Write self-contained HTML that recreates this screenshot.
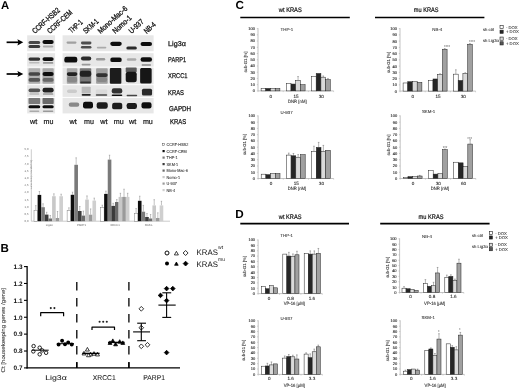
<!DOCTYPE html>
<html><head><meta charset="utf-8"><style>
html,body{margin:0;padding:0;background:#fff;width:520px;height:389px;overflow:hidden}
svg{display:block}
text{font-family:"Liberation Sans",sans-serif;text-rendering:geometricPrecision}
</style></head><body>
<svg width="520" height="389" viewBox="0 0 520 389">
<defs>
<filter id="bl" x="-10%" y="-10%" width="120%" height="120%"><feGaussianBlur stdDeviation="0.5"/></filter>
<filter id="bl2" x="-20%" y="-20%" width="140%" height="140%"><feGaussianBlur stdDeviation="0.7"/></filter>
<filter id="gblur" x="0" y="0" width="100%" height="100%"><feGaussianBlur stdDeviation="0.3"/></filter>
</defs>
<rect width="520" height="389" fill="#fff"/>
<g filter="url(#gblur)">
<rect width="520" height="389" fill="#fff"/>
<text x="0.90" y="8.90" font-size="11.3" text-anchor="start" fill="#000" font-weight="bold" >A</text>
<text x="34.90" y="34.10" font-size="7.7" text-anchor="start" fill="#111" textLength="34.5" lengthAdjust="spacingAndGlyphs" transform="rotate(-42 34.90 34.10)" stroke="#111" stroke-width="0.3">CCRF-HSB2</text>
<text x="49.90" y="34.10" font-size="7.7" text-anchor="start" fill="#111" textLength="31.0" lengthAdjust="spacingAndGlyphs" transform="rotate(-42 49.90 34.10)" stroke="#111" stroke-width="0.3">CCRF-CEM</text>
<text x="71.40" y="33.60" font-size="7.7" text-anchor="start" fill="#111" textLength="16.0" lengthAdjust="spacingAndGlyphs" transform="rotate(-42 71.40 33.60)" stroke="#111" stroke-width="0.3">THP-1</text>
<text x="85.90" y="34.10" font-size="7.7" text-anchor="start" fill="#111" textLength="18.0" lengthAdjust="spacingAndGlyphs" transform="rotate(-42 85.90 34.10)" stroke="#111" stroke-width="0.3">SKM-1</text>
<text x="100.40" y="34.10" font-size="7.7" text-anchor="start" fill="#111" textLength="37.0" lengthAdjust="spacingAndGlyphs" transform="rotate(-42 100.40 34.10)" stroke="#111" stroke-width="0.3">Mono-Mac-6</text>
<text x="115.20" y="34.10" font-size="7.7" text-anchor="start" fill="#111" textLength="23.0" lengthAdjust="spacingAndGlyphs" transform="rotate(-42 115.20 34.10)" stroke="#111" stroke-width="0.3">Nomo-1</text>
<text x="131.40" y="34.10" font-size="7.7" text-anchor="start" fill="#111" textLength="17.5" lengthAdjust="spacingAndGlyphs" transform="rotate(-42 131.40 34.10)" stroke="#111" stroke-width="0.3">U-937</text>
<text x="146.70" y="34.10" font-size="7.7" text-anchor="start" fill="#111" textLength="13.0" lengthAdjust="spacingAndGlyphs" transform="rotate(-42 146.70 34.10)" stroke="#111" stroke-width="0.3">NB-4</text>
<g filter="url(#bl)">
<rect x="27.20" y="35.30" width="27.90" height="15.90" fill="#e7e7e7" />
<rect x="62.60" y="35.30" width="91.00" height="15.90" fill="#e7e7e7" />
<rect x="27.20" y="53.20" width="27.90" height="13.40" fill="#e7e7e7" />
<rect x="62.60" y="53.20" width="91.00" height="13.40" fill="#e7e7e7" />
<rect x="27.20" y="67.60" width="27.90" height="16.60" fill="#e7e7e7" />
<rect x="62.60" y="67.60" width="91.00" height="16.60" fill="#e7e7e7" />
<rect x="27.20" y="85.20" width="27.90" height="11.70" fill="#e7e7e7" />
<rect x="62.60" y="85.20" width="91.00" height="11.70" fill="#e7e7e7" />
<rect x="27.20" y="97.90" width="27.90" height="15.50" fill="#e7e7e7" />
<rect x="62.60" y="97.90" width="91.00" height="15.50" fill="#e7e7e7" />
</g>
<g filter="url(#bl2)">
<rect x="28.50" y="40.94" width="11.70" height="3.12" rx="1.56" fill="#4a4a4a"/>
<rect x="28.50" y="44.94" width="11.70" height="3.12" rx="1.56" fill="#3a3a3a"/>
<rect x="42.50" y="39.96" width="11.20" height="4.08" rx="2.04" fill="#111"/>
<rect x="42.85" y="45.42" width="10.50" height="2.16" rx="1.08" fill="#aaa"/>
<rect x="66.50" y="41.52" width="10.00" height="2.16" rx="1.08" fill="#a0a0a0"/>
<rect x="80.95" y="41.56" width="10.50" height="2.88" rx="1.44" fill="#505050"/>
<rect x="80.95" y="46.10" width="10.50" height="2.40" rx="1.20" fill="#505050"/>
<rect x="96.85" y="46.64" width="9.50" height="1.92" rx="0.96" fill="#aaa"/>
<rect x="110.25" y="41.64" width="11.50" height="4.32" rx="2.16" fill="#111"/>
<rect x="126.35" y="46.44" width="10.50" height="3.12" rx="1.56" fill="#2a2a2a"/>
<rect x="140.55" y="41.96" width="11.50" height="4.08" rx="2.04" fill="#111"/>
<rect x="28.50" y="57.54" width="11.70" height="3.12" rx="1.56" fill="#333"/>
<rect x="29.10" y="61.98" width="10.50" height="1.44" rx="0.72" fill="#bbb"/>
<rect x="42.50" y="57.18" width="11.20" height="3.84" rx="1.92" fill="#111"/>
<rect x="42.85" y="62.06" width="10.50" height="1.68" rx="0.84" fill="#999"/>
<rect x="64.30" y="56.82" width="13.00" height="5.76" rx="2.20" fill="#111"/>
<rect x="80.95" y="56.46" width="10.30" height="4.08" rx="2.04" fill="#2a2a2a"/>
<rect x="81.60" y="63.82" width="9.00" height="1.56" rx="0.78" fill="#999"/>
<rect x="96.00" y="58.10" width="9.20" height="2.40" rx="1.20" fill="#9a9a9a"/>
<rect x="110.25" y="57.52" width="11.50" height="4.56" rx="2.20" fill="#111"/>
<rect x="126.85" y="58.18" width="9.50" height="2.64" rx="1.32" fill="#aaa"/>
<rect x="140.55" y="57.22" width="11.50" height="4.56" rx="2.20" fill="#111"/>
<rect x="141.55" y="64.22" width="9.50" height="1.56" rx="0.78" fill="#888"/>
<rect x="28.50" y="68.25" width="11.70" height="15.50" rx="0.80" fill="#b0b0b0"/>
<rect x="42.50" y="68.25" width="11.20" height="15.50" rx="0.80" fill="#a8a8a8"/>
<rect x="28.50" y="72.20" width="11.70" height="3.60" rx="1.80" fill="#444"/>
<rect x="28.50" y="78.10" width="11.70" height="3.60" rx="1.80" fill="#555"/>
<rect x="42.50" y="71.90" width="11.20" height="4.20" rx="2.10" fill="#111"/>
<rect x="42.50" y="78.10" width="11.20" height="3.60" rx="1.80" fill="#666"/>
<rect x="66.80" y="68.25" width="10.60" height="15.50" rx="0.80" fill="#a8a8a8"/>
<rect x="66.80" y="72.30" width="10.60" height="3.60" rx="1.80" fill="#222"/>
<rect x="67.10" y="76.50" width="10.00" height="6.00" rx="2.20" fill="#888"/>
<rect x="79.75" y="68.25" width="11.50" height="15.50" rx="0.80" fill="#777"/>
<rect x="79.75" y="70.70" width="11.50" height="6.00" rx="2.20" fill="#222"/>
<rect x="80.25" y="81.46" width="10.50" height="1.68" rx="0.84" fill="#333"/>
<rect x="96.10" y="68.25" width="11.60" height="15.50" rx="0.80" fill="#a0a0a0"/>
<rect x="96.10" y="73.18" width="11.60" height="3.84" rx="1.92" fill="#303030"/>
<rect x="96.65" y="77.10" width="10.50" height="4.80" rx="2.20" fill="#888"/>
<rect x="109.85" y="67.90" width="11.50" height="15.80" rx="1.00" fill="#1e1e1e"/>
<rect x="125.70" y="67.60" width="11.00" height="4.80" rx="0.80" fill="#5a5a5a"/>
<rect x="125.70" y="71.75" width="11.00" height="10.50" rx="2.50" fill="#141414"/>
<rect x="140.15" y="68.05" width="11.50" height="15.50" rx="1.50" fill="#121212"/>
<rect x="28.50" y="88.60" width="11.70" height="3.60" rx="1.80" fill="#555"/>
<rect x="29.35" y="93.28" width="10.00" height="1.44" rx="0.72" fill="#bbb"/>
<rect x="42.50" y="87.70" width="11.20" height="4.80" rx="2.20" fill="#222"/>
<rect x="42.85" y="93.16" width="10.50" height="1.68" rx="0.84" fill="#999"/>
<rect x="67.00" y="89.40" width="10.00" height="3.60" rx="1.80" fill="#cbcbcb"/>
<rect x="81.65" y="86.78" width="9.10" height="6.84" rx="0.80" fill="#bbb"/>
<rect x="81.65" y="93.90" width="9.10" height="1.80" rx="0.90" fill="#222"/>
<rect x="95.75" y="89.60" width="11.50" height="4.80" rx="0.80" fill="#dadada"/>
<rect x="95.75" y="94.28" width="11.50" height="1.44" rx="0.72" fill="#444"/>
<rect x="111.70" y="88.32" width="10.60" height="5.16" rx="2.20" fill="#333"/>
<rect x="111.70" y="94.52" width="10.60" height="1.56" rx="0.78" fill="#111"/>
<rect x="126.60" y="94.78" width="10.60" height="1.44" rx="0.72" fill="#444"/>
<rect x="141.95" y="88.78" width="10.10" height="6.84" rx="1.50" fill="#2a2a2a"/>
<rect x="28.50" y="98.00" width="11.70" height="6.00" rx="0.80" fill="#7a7a7a"/>
<rect x="42.50" y="98.00" width="11.20" height="6.00" rx="0.80" fill="#6a6a6a"/>
<rect x="28.50" y="105.30" width="11.70" height="3.00" rx="1.50" fill="#111"/>
<rect x="29.35" y="110.48" width="10.00" height="1.44" rx="0.72" fill="#aaa"/>
<rect x="42.50" y="105.24" width="11.20" height="3.12" rx="1.56" fill="#111"/>
<rect x="42.85" y="110.48" width="10.50" height="1.44" rx="0.72" fill="#999"/>
<rect x="68.70" y="102.60" width="10.60" height="4.20" rx="2.10" fill="#888"/>
<rect x="83.00" y="101.68" width="10.00" height="6.84" rx="2.20" fill="#111"/>
<rect x="96.65" y="102.26" width="11.10" height="6.48" rx="2.20" fill="#1a1a1a"/>
<rect x="112.15" y="102.64" width="10.10" height="6.72" rx="2.20" fill="#1a1a1a"/>
<rect x="126.65" y="103.00" width="10.30" height="6.00" rx="2.20" fill="#1a1a1a"/>
<rect x="141.45" y="102.30" width="10.10" height="6.20" rx="2.20" fill="#111"/>
</g>
<line x1="6.60" y1="42.30" x2="19.00" y2="42.30" stroke="#000" stroke-width="1.7" />
<path d="M17.4,39.20 L23.3,42.30 L17.4,45.40 L18.4,42.30 Z" fill="#000"/>
<line x1="6.60" y1="74.00" x2="19.00" y2="74.00" stroke="#000" stroke-width="1.7" />
<path d="M17.4,70.90 L23.3,74.00 L17.4,77.10 L18.4,74.00 Z" fill="#000"/>
<text x="168.10" y="45.80" font-size="7.0" text-anchor="start" fill="#111" textLength="17.7" lengthAdjust="spacingAndGlyphs" stroke="#111" stroke-width="0.25">Lig3α</text>
<text x="168.10" y="62.40" font-size="7.0" text-anchor="start" fill="#111" textLength="17.9" lengthAdjust="spacingAndGlyphs" stroke="#111" stroke-width="0.25">PARP1</text>
<text x="168.10" y="78.00" font-size="7.0" text-anchor="start" fill="#111" textLength="19.4" lengthAdjust="spacingAndGlyphs" stroke="#111" stroke-width="0.25">XRCC1</text>
<text x="168.10" y="95.00" font-size="7.0" text-anchor="start" fill="#111" textLength="15.9" lengthAdjust="spacingAndGlyphs" stroke="#111" stroke-width="0.25">KRAS</text>
<text x="168.90" y="111.20" font-size="7.0" text-anchor="start" fill="#111" textLength="22.2" lengthAdjust="spacingAndGlyphs" stroke="#111" stroke-width="0.25">GAPDH</text>
<text x="170.00" y="124.10" font-size="7.0" text-anchor="start" fill="#111" textLength="16.2" lengthAdjust="spacingAndGlyphs" stroke="#111" stroke-width="0.25">KRAS</text>
<text x="33.75" y="123.80" font-size="7.4" text-anchor="middle" fill="#1a1a1a" textLength="7.3" lengthAdjust="spacingAndGlyphs" stroke="#1a1a1a" stroke-width="0.22">wt</text>
<text x="48.55" y="123.80" font-size="7.4" text-anchor="middle" fill="#1a1a1a" textLength="9.9" lengthAdjust="spacingAndGlyphs" stroke="#1a1a1a" stroke-width="0.22">mu</text>
<text x="73.10" y="123.80" font-size="7.4" text-anchor="middle" fill="#1a1a1a" textLength="7.3" lengthAdjust="spacingAndGlyphs" stroke="#1a1a1a" stroke-width="0.22">wt</text>
<text x="88.95" y="123.80" font-size="7.4" text-anchor="middle" fill="#1a1a1a" textLength="9.9" lengthAdjust="spacingAndGlyphs" stroke="#1a1a1a" stroke-width="0.22">mu</text>
<text x="103.80" y="123.80" font-size="7.4" text-anchor="middle" fill="#1a1a1a" textLength="7.3" lengthAdjust="spacingAndGlyphs" stroke="#1a1a1a" stroke-width="0.22">wt</text>
<text x="118.80" y="123.80" font-size="7.4" text-anchor="middle" fill="#1a1a1a" textLength="9.9" lengthAdjust="spacingAndGlyphs" stroke="#1a1a1a" stroke-width="0.22">mu</text>
<text x="132.70" y="123.80" font-size="7.4" text-anchor="middle" fill="#1a1a1a" textLength="7.3" lengthAdjust="spacingAndGlyphs" stroke="#1a1a1a" stroke-width="0.22">wt</text>
<text x="147.90" y="123.80" font-size="7.4" text-anchor="middle" fill="#1a1a1a" textLength="9.9" lengthAdjust="spacingAndGlyphs" stroke="#1a1a1a" stroke-width="0.22">mu</text>
<line x1="31.30" y1="149.30" x2="31.30" y2="221.20" stroke="#aaa" stroke-width="0.6" />
<line x1="31.30" y1="221.20" x2="170.00" y2="221.20" stroke="#aaa" stroke-width="0.6" />
<text x="28.50" y="222.20" font-size="2.8" text-anchor="end" fill="#666" >0,0</text>
<text x="28.50" y="215.01" font-size="2.8" text-anchor="end" fill="#666" >0,5</text>
<text x="28.50" y="207.82" font-size="2.8" text-anchor="end" fill="#666" >1,0</text>
<text x="28.50" y="200.63" font-size="2.8" text-anchor="end" fill="#666" >1,5</text>
<text x="28.50" y="193.44" font-size="2.8" text-anchor="end" fill="#666" >2,0</text>
<text x="28.50" y="186.25" font-size="2.8" text-anchor="end" fill="#666" >2,5</text>
<text x="28.50" y="179.06" font-size="2.8" text-anchor="end" fill="#666" >3,0</text>
<text x="28.50" y="171.87" font-size="2.8" text-anchor="end" fill="#666" >3,5</text>
<text x="28.50" y="164.68" font-size="2.8" text-anchor="end" fill="#666" >4,0</text>
<text x="28.50" y="157.49" font-size="2.8" text-anchor="end" fill="#666" >4,5</text>
<text x="28.50" y="150.30" font-size="2.8" text-anchor="end" fill="#666" >5,0</text>
<text x="32.00" y="175.00" font-size="2.6" text-anchor="middle" fill="#777" textLength="29" lengthAdjust="spacingAndGlyphs" transform="rotate(-90 32.00 175.00)" >relative intensity [protein/GAPDH]</text>
<line x1="35.81" y1="210.20" x2="35.81" y2="205.60" stroke="#777" stroke-width="0.45" />
<line x1="35.11" y1="205.60" x2="36.51" y2="205.60" stroke="#777" stroke-width="0.45" />
<rect x="34.00" y="210.20" width="3.62" height="11.00" fill="#fff" stroke="#666" stroke-width="0.4" />
<line x1="39.43" y1="194.90" x2="39.43" y2="191.50" stroke="#777" stroke-width="0.45" />
<line x1="38.73" y1="191.50" x2="40.13" y2="191.50" stroke="#777" stroke-width="0.45" />
<rect x="37.62" y="194.90" width="3.62" height="26.30" fill="#111" />
<line x1="43.05" y1="207.20" x2="43.05" y2="203.80" stroke="#777" stroke-width="0.45" />
<line x1="42.35" y1="203.80" x2="43.75" y2="203.80" stroke="#777" stroke-width="0.45" />
<rect x="41.24" y="207.20" width="3.62" height="14.00" fill="#7a7a7a" />
<line x1="46.67" y1="214.60" x2="46.67" y2="212.30" stroke="#777" stroke-width="0.45" />
<line x1="45.97" y1="212.30" x2="47.37" y2="212.30" stroke="#777" stroke-width="0.45" />
<rect x="44.86" y="214.60" width="3.62" height="6.60" fill="#3a3a3a" />
<line x1="50.29" y1="218.50" x2="50.29" y2="215.50" stroke="#777" stroke-width="0.45" />
<line x1="49.59" y1="215.50" x2="50.99" y2="215.50" stroke="#777" stroke-width="0.45" />
<rect x="48.48" y="218.50" width="3.62" height="2.70" fill="#6a6a6a" />
<line x1="53.91" y1="196.20" x2="53.91" y2="193.80" stroke="#777" stroke-width="0.45" />
<line x1="53.21" y1="193.80" x2="54.61" y2="193.80" stroke="#777" stroke-width="0.45" />
<rect x="52.10" y="196.20" width="3.62" height="25.00" fill="#c8c8c8" />
<line x1="57.53" y1="218.00" x2="57.53" y2="211.50" stroke="#777" stroke-width="0.45" />
<line x1="56.83" y1="211.50" x2="58.23" y2="211.50" stroke="#777" stroke-width="0.45" />
<rect x="55.72" y="218.00" width="3.62" height="3.20" fill="#9a9a9a" />
<line x1="61.15" y1="196.20" x2="61.15" y2="194.20" stroke="#777" stroke-width="0.45" />
<line x1="60.45" y1="194.20" x2="61.85" y2="194.20" stroke="#777" stroke-width="0.45" />
<rect x="59.34" y="196.20" width="3.62" height="25.00" fill="#cfcfcf" />
<line x1="68.91" y1="210.70" x2="68.91" y2="207.80" stroke="#777" stroke-width="0.45" />
<line x1="68.21" y1="207.80" x2="69.61" y2="207.80" stroke="#777" stroke-width="0.45" />
<rect x="67.10" y="210.70" width="3.62" height="10.50" fill="#fff" stroke="#666" stroke-width="0.4" />
<line x1="72.53" y1="194.80" x2="72.53" y2="192.20" stroke="#777" stroke-width="0.45" />
<line x1="71.83" y1="192.20" x2="73.23" y2="192.20" stroke="#777" stroke-width="0.45" />
<rect x="70.72" y="194.80" width="3.62" height="26.40" fill="#111" />
<line x1="76.15" y1="164.80" x2="76.15" y2="157.80" stroke="#777" stroke-width="0.45" />
<line x1="75.45" y1="157.80" x2="76.85" y2="157.80" stroke="#777" stroke-width="0.45" />
<rect x="74.34" y="164.80" width="3.62" height="56.40" fill="#7a7a7a" />
<line x1="79.77" y1="211.00" x2="79.77" y2="206.50" stroke="#777" stroke-width="0.45" />
<line x1="79.07" y1="206.50" x2="80.47" y2="206.50" stroke="#777" stroke-width="0.45" />
<rect x="77.96" y="211.00" width="3.62" height="10.20" fill="#3a3a3a" />
<line x1="83.39" y1="215.60" x2="83.39" y2="211.10" stroke="#777" stroke-width="0.45" />
<line x1="82.69" y1="211.10" x2="84.09" y2="211.10" stroke="#777" stroke-width="0.45" />
<rect x="81.58" y="215.60" width="3.62" height="5.60" fill="#6a6a6a" />
<line x1="87.01" y1="199.60" x2="87.01" y2="195.90" stroke="#777" stroke-width="0.45" />
<line x1="86.31" y1="195.90" x2="87.71" y2="195.90" stroke="#777" stroke-width="0.45" />
<rect x="85.20" y="199.60" width="3.62" height="21.60" fill="#c8c8c8" />
<line x1="90.63" y1="214.70" x2="90.63" y2="208.90" stroke="#777" stroke-width="0.45" />
<line x1="89.93" y1="208.90" x2="91.33" y2="208.90" stroke="#777" stroke-width="0.45" />
<rect x="88.82" y="214.70" width="3.62" height="6.50" fill="#9a9a9a" />
<line x1="94.25" y1="200.60" x2="94.25" y2="198.10" stroke="#777" stroke-width="0.45" />
<line x1="93.55" y1="198.10" x2="94.95" y2="198.10" stroke="#777" stroke-width="0.45" />
<rect x="92.44" y="200.60" width="3.62" height="20.60" fill="#cfcfcf" />
<line x1="102.31" y1="207.70" x2="102.31" y2="205.20" stroke="#777" stroke-width="0.45" />
<line x1="101.61" y1="205.20" x2="103.01" y2="205.20" stroke="#777" stroke-width="0.45" />
<rect x="100.50" y="207.70" width="3.62" height="13.50" fill="#fff" stroke="#666" stroke-width="0.4" />
<line x1="105.93" y1="193.90" x2="105.93" y2="191.10" stroke="#777" stroke-width="0.45" />
<line x1="105.23" y1="191.10" x2="106.63" y2="191.10" stroke="#777" stroke-width="0.45" />
<rect x="104.12" y="193.90" width="3.62" height="27.30" fill="#111" />
<line x1="109.55" y1="159.60" x2="109.55" y2="155.20" stroke="#777" stroke-width="0.45" />
<line x1="108.85" y1="155.20" x2="110.25" y2="155.20" stroke="#777" stroke-width="0.45" />
<rect x="107.74" y="159.60" width="3.62" height="61.60" fill="#7a7a7a" />
<line x1="113.17" y1="205.90" x2="113.17" y2="203.30" stroke="#777" stroke-width="0.45" />
<line x1="112.47" y1="203.30" x2="113.87" y2="203.30" stroke="#777" stroke-width="0.45" />
<rect x="111.36" y="205.90" width="3.62" height="15.30" fill="#3a3a3a" />
<line x1="116.79" y1="202.00" x2="116.79" y2="199.60" stroke="#777" stroke-width="0.45" />
<line x1="116.09" y1="199.60" x2="117.49" y2="199.60" stroke="#777" stroke-width="0.45" />
<rect x="114.98" y="202.00" width="3.62" height="19.20" fill="#6a6a6a" />
<line x1="120.41" y1="196.90" x2="120.41" y2="193.30" stroke="#777" stroke-width="0.45" />
<line x1="119.71" y1="193.30" x2="121.11" y2="193.30" stroke="#777" stroke-width="0.45" />
<rect x="118.60" y="196.90" width="3.62" height="24.30" fill="#c8c8c8" />
<line x1="124.03" y1="196.90" x2="124.03" y2="189.20" stroke="#777" stroke-width="0.45" />
<line x1="123.33" y1="189.20" x2="124.73" y2="189.20" stroke="#777" stroke-width="0.45" />
<rect x="122.22" y="196.90" width="3.62" height="24.30" fill="#9a9a9a" />
<line x1="127.65" y1="196.90" x2="127.65" y2="193.30" stroke="#777" stroke-width="0.45" />
<line x1="126.95" y1="193.30" x2="128.35" y2="193.30" stroke="#777" stroke-width="0.45" />
<rect x="125.84" y="196.90" width="3.62" height="24.30" fill="#cfcfcf" />
<line x1="136.11" y1="213.50" x2="136.11" y2="208.50" stroke="#777" stroke-width="0.45" />
<line x1="135.41" y1="208.50" x2="136.81" y2="208.50" stroke="#777" stroke-width="0.45" />
<rect x="134.30" y="213.50" width="3.62" height="7.70" fill="#fff" stroke="#666" stroke-width="0.4" />
<line x1="139.73" y1="200.80" x2="139.73" y2="196.20" stroke="#777" stroke-width="0.45" />
<line x1="139.03" y1="196.20" x2="140.43" y2="196.20" stroke="#777" stroke-width="0.45" />
<rect x="137.92" y="200.80" width="3.62" height="20.40" fill="#111" />
<line x1="143.35" y1="211.70" x2="143.35" y2="205.40" stroke="#777" stroke-width="0.45" />
<line x1="142.65" y1="205.40" x2="144.05" y2="205.40" stroke="#777" stroke-width="0.45" />
<rect x="141.54" y="211.70" width="3.62" height="9.50" fill="#7a7a7a" />
<line x1="146.97" y1="217.00" x2="146.97" y2="213.50" stroke="#777" stroke-width="0.45" />
<line x1="146.27" y1="213.50" x2="147.67" y2="213.50" stroke="#777" stroke-width="0.45" />
<rect x="145.16" y="217.00" width="3.62" height="4.20" fill="#3a3a3a" />
<line x1="150.59" y1="218.50" x2="150.59" y2="214.50" stroke="#777" stroke-width="0.45" />
<line x1="149.89" y1="214.50" x2="151.29" y2="214.50" stroke="#777" stroke-width="0.45" />
<rect x="148.78" y="218.50" width="3.62" height="2.70" fill="#6a6a6a" />
<line x1="154.21" y1="205.40" x2="154.21" y2="199.70" stroke="#777" stroke-width="0.45" />
<line x1="153.51" y1="199.70" x2="154.91" y2="199.70" stroke="#777" stroke-width="0.45" />
<rect x="152.40" y="205.40" width="3.62" height="15.80" fill="#c8c8c8" />
<line x1="157.83" y1="218.00" x2="157.83" y2="212.80" stroke="#777" stroke-width="0.45" />
<line x1="157.13" y1="212.80" x2="158.53" y2="212.80" stroke="#777" stroke-width="0.45" />
<rect x="156.02" y="218.00" width="3.62" height="3.20" fill="#9a9a9a" />
<line x1="161.45" y1="205.40" x2="161.45" y2="201.30" stroke="#777" stroke-width="0.45" />
<line x1="160.75" y1="201.30" x2="162.15" y2="201.30" stroke="#777" stroke-width="0.45" />
<rect x="159.64" y="205.40" width="3.62" height="15.80" fill="#cfcfcf" />
<text x="49.20" y="226.00" font-size="2.8" text-anchor="middle" fill="#666" >Lig3α</text>
<text x="81.50" y="226.00" font-size="2.8" text-anchor="middle" fill="#666" >PARP1</text>
<text x="115.00" y="226.00" font-size="2.8" text-anchor="middle" fill="#666" >XRCC1</text>
<text x="148.50" y="226.00" font-size="2.8" text-anchor="middle" fill="#666" >KRAS</text>
<rect x="162.50" y="143.50" width="2.20" height="2.20" fill="#fff" stroke="#444" stroke-width="0.45" />
<text x="166.60" y="146.10" font-size="4.3" text-anchor="start" fill="#333" textLength="21.65" lengthAdjust="spacingAndGlyphs" stroke="#333" stroke-width="0.08">CCRF-HSB2</text>
<rect x="162.50" y="150.00" width="2.20" height="2.20" fill="#111" />
<text x="166.60" y="152.60" font-size="4.3" text-anchor="start" fill="#333" textLength="20.18" lengthAdjust="spacingAndGlyphs" stroke="#333" stroke-width="0.08">CCRF-CEM</text>
<rect x="162.50" y="156.50" width="2.20" height="2.20" fill="#7a7a7a" />
<text x="166.60" y="159.10" font-size="4.3" text-anchor="start" fill="#333" textLength="10.93" lengthAdjust="spacingAndGlyphs" stroke="#333" stroke-width="0.08">THP-1</text>
<rect x="162.50" y="163.00" width="2.20" height="2.20" fill="#3a3a3a" />
<text x="166.60" y="165.60" font-size="4.3" text-anchor="start" fill="#333" textLength="11.56" lengthAdjust="spacingAndGlyphs" stroke="#333" stroke-width="0.08">SKM-1</text>
<rect x="162.50" y="169.50" width="2.20" height="2.20" fill="#6a6a6a" />
<text x="166.60" y="172.10" font-size="4.3" text-anchor="start" fill="#333" textLength="21.24" lengthAdjust="spacingAndGlyphs" stroke="#333" stroke-width="0.08">Mono-Mac-6</text>
<rect x="162.50" y="176.00" width="2.20" height="2.20" fill="#c8c8c8" />
<text x="166.60" y="178.60" font-size="4.3" text-anchor="start" fill="#333" textLength="13.46" lengthAdjust="spacingAndGlyphs" stroke="#333" stroke-width="0.08">Nomo-1</text>
<rect x="162.50" y="182.50" width="2.20" height="2.20" fill="#9a9a9a" />
<text x="166.60" y="185.10" font-size="4.3" text-anchor="start" fill="#333" textLength="10.31" lengthAdjust="spacingAndGlyphs" stroke="#333" stroke-width="0.08">U-937</text>
<rect x="162.50" y="189.00" width="2.20" height="2.20" fill="#cfcfcf" />
<text x="166.60" y="191.60" font-size="4.3" text-anchor="start" fill="#333" textLength="8.62" lengthAdjust="spacingAndGlyphs" stroke="#333" stroke-width="0.08">NB-4</text>
<text x="0.50" y="251.80" font-size="11.6" text-anchor="start" fill="#000" font-weight="bold" >B</text>
<line x1="27.10" y1="266.00" x2="27.10" y2="368.60" stroke="#000" stroke-width="1.3" />
<line x1="26.50" y1="367.90" x2="180.00" y2="367.90" stroke="#000" stroke-width="1.4" />
<line x1="24.00" y1="367.90" x2="27.10" y2="367.90" stroke="#000" stroke-width="1.1" />
<text x="22.50" y="370.20" font-size="6.4" text-anchor="end" fill="#111" font-weight="bold" >0.7</text>
<line x1="24.00" y1="351.02" x2="27.10" y2="351.02" stroke="#000" stroke-width="1.1" />
<text x="22.50" y="353.32" font-size="6.4" text-anchor="end" fill="#111" font-weight="bold" >0.8</text>
<line x1="24.00" y1="334.13" x2="27.10" y2="334.13" stroke="#000" stroke-width="1.1" />
<text x="22.50" y="336.43" font-size="6.4" text-anchor="end" fill="#111" font-weight="bold" >0.9</text>
<line x1="24.00" y1="317.25" x2="27.10" y2="317.25" stroke="#000" stroke-width="1.1" />
<text x="22.50" y="319.55" font-size="6.4" text-anchor="end" fill="#111" font-weight="bold" >1.0</text>
<line x1="24.00" y1="300.37" x2="27.10" y2="300.37" stroke="#000" stroke-width="1.1" />
<text x="22.50" y="302.67" font-size="6.4" text-anchor="end" fill="#111" font-weight="bold" >1.1</text>
<line x1="24.00" y1="283.48" x2="27.10" y2="283.48" stroke="#000" stroke-width="1.1" />
<text x="22.50" y="285.78" font-size="6.4" text-anchor="end" fill="#111" font-weight="bold" >1.2</text>
<line x1="24.00" y1="266.60" x2="27.10" y2="266.60" stroke="#000" stroke-width="1.1" />
<text x="22.50" y="268.90" font-size="6.4" text-anchor="end" fill="#111" font-weight="bold" >1.3</text>
<text x="4.90" y="330.20" font-size="5.4" text-anchor="middle" fill="#333" textLength="84.5" lengthAdjust="spacingAndGlyphs" transform="rotate(-90 4.90 330.20)" stroke="#333" stroke-width="0.08">Ct [housekeeping genes /gene]</text>
<line x1="76.80" y1="282.10" x2="76.80" y2="367.90" stroke="#000" stroke-width="1.3" stroke-dasharray="8.3,7.7"/>
<line x1="76.80" y1="362.20" x2="76.80" y2="367.90" stroke="#000" stroke-width="1.3" />
<line x1="128.90" y1="282.10" x2="128.90" y2="367.90" stroke="#000" stroke-width="1.3" stroke-dasharray="8.3,7.7"/>
<line x1="128.90" y1="362.20" x2="128.90" y2="367.90" stroke="#000" stroke-width="1.3" />
<text x="56.00" y="380.40" font-size="7.0" text-anchor="middle" fill="#222" textLength="21.6" lengthAdjust="spacingAndGlyphs" stroke="#333" stroke-width="0.08">Lig3α</text>
<text x="104.30" y="380.40" font-size="7.0" text-anchor="middle" fill="#222" textLength="23.0" lengthAdjust="spacingAndGlyphs" stroke="#333" stroke-width="0.08">XRCC1</text>
<text x="154.10" y="380.40" font-size="7.0" text-anchor="middle" fill="#222" textLength="21.6" lengthAdjust="spacingAndGlyphs" stroke="#333" stroke-width="0.08">PARP1</text>
<circle cx="33.6" cy="346.1" r="1.75" fill="#fff" stroke="#000" stroke-width="0.85"/>
<circle cx="33.3" cy="351.4" r="1.75" fill="#fff" stroke="#000" stroke-width="0.85"/>
<circle cx="39.7" cy="347.7" r="1.75" fill="#fff" stroke="#000" stroke-width="0.85"/>
<circle cx="39.7" cy="354.3" r="1.75" fill="#fff" stroke="#000" stroke-width="0.85"/>
<circle cx="46.1" cy="352.8" r="1.75" fill="#fff" stroke="#000" stroke-width="0.85"/>
<circle cx="42.2" cy="350.4" r="1.75" fill="#fff" stroke="#000" stroke-width="0.85"/>
<line x1="31.80" y1="350.20" x2="48.70" y2="350.20" stroke="#000" stroke-width="1.0" />
<circle cx="58.6" cy="344.5" r="1.95" fill="#000"/>
<circle cx="62.1" cy="340.8" r="1.95" fill="#000"/>
<circle cx="65.0" cy="344.2" r="1.95" fill="#000"/>
<circle cx="68.2" cy="342.5" r="1.95" fill="#000"/>
<circle cx="71.75" cy="344.5" r="1.95" fill="#000"/>
<line x1="56.80" y1="343.70" x2="74.00" y2="343.70" stroke="#000" stroke-width="1.0" />
<path d="M40.7,316.2 L40.7,312.7 L63.6,312.7 L63.6,316.2" fill="none" stroke="#000" stroke-width="1.2" stroke-linejoin="round"/>
<circle cx="50.8" cy="308.1" r="1.05" fill="#222"/>
<circle cx="54.4" cy="308.1" r="1.05" fill="#222"/>
<path d="M84.00,351.34 L86.00,354.94 L82.00,354.94 Z" fill="#fff" stroke="#000" stroke-width="0.75"/>
<path d="M87.40,347.44 L89.40,351.04 L85.40,351.04 Z" fill="#fff" stroke="#000" stroke-width="0.75"/>
<path d="M90.50,352.34 L92.50,355.94 L88.50,355.94 Z" fill="#fff" stroke="#000" stroke-width="0.75"/>
<path d="M94.00,351.64 L96.00,355.24 L92.00,355.24 Z" fill="#fff" stroke="#000" stroke-width="0.75"/>
<path d="M97.50,352.34 L99.50,355.94 L95.50,355.94 Z" fill="#fff" stroke="#000" stroke-width="0.75"/>
<path d="M88.50,353.14 L90.50,356.74 L86.50,356.74 Z" fill="#fff" stroke="#000" stroke-width="0.75"/>
<line x1="82.30" y1="353.40" x2="99.60" y2="353.40" stroke="#000" stroke-width="1.4" />
<path d="M110.00,340.89 L111.95,344.40 L108.05,344.40 Z" fill="#000" stroke="#000" stroke-width="0.75"/>
<path d="M112.80,338.89 L114.75,342.40 L110.85,342.40 Z" fill="#000" stroke="#000" stroke-width="0.75"/>
<path d="M115.60,342.29 L117.55,345.80 L113.65,345.80 Z" fill="#000" stroke="#000" stroke-width="0.75"/>
<path d="M119.70,339.69 L121.65,343.20 L117.75,343.20 Z" fill="#000" stroke="#000" stroke-width="0.75"/>
<path d="M122.80,340.89 L124.75,344.40 L120.85,344.40 Z" fill="#000" stroke="#000" stroke-width="0.75"/>
<line x1="108.00" y1="342.40" x2="124.60" y2="342.40" stroke="#000" stroke-width="1.4" />
<path d="M92,330.1 L92,327.2 L114.5,327.2 L114.5,330.1" fill="none" stroke="#000" stroke-width="1.2" stroke-linejoin="round"/>
<circle cx="99.6" cy="321.8" r="1.05" fill="#222"/>
<circle cx="103.2" cy="321.8" r="1.05" fill="#222"/>
<circle cx="106.8" cy="321.8" r="1.05" fill="#222"/>
<path d="M141.30,306.45 L143.65,308.80 L141.30,311.15 L138.95,308.80 Z" fill="#fff" stroke="#000" stroke-width="0.8"/>
<path d="M141.30,325.35 L143.65,327.70 L141.30,330.05 L138.95,327.70 Z" fill="#fff" stroke="#000" stroke-width="0.8"/>
<path d="M141.30,343.95 L143.65,346.30 L141.30,348.65 L138.95,346.30 Z" fill="#fff" stroke="#000" stroke-width="0.8"/>
<path d="M147.50,342.45 L149.85,344.80 L147.50,347.15 L145.15,344.80 Z" fill="#fff" stroke="#000" stroke-width="0.8"/>
<line x1="133.10" y1="331.90" x2="150.00" y2="331.90" stroke="#000" stroke-width="1.1" />
<line x1="141.30" y1="323.20" x2="141.30" y2="340.70" stroke="#000" stroke-width="1.1" />
<line x1="137.20" y1="323.20" x2="146.00" y2="323.20" stroke="#000" stroke-width="1.1" />
<line x1="137.20" y1="340.70" x2="146.00" y2="340.70" stroke="#000" stroke-width="1.1" />
<path d="M166.60,286.30 L168.90,288.60 L166.60,290.90 L164.30,288.60 Z" fill="#000" stroke="#000" stroke-width="0.8"/>
<path d="M172.80,286.30 L175.10,288.60 L172.80,290.90 L170.50,288.60 Z" fill="#000" stroke="#000" stroke-width="0.8"/>
<path d="M160.50,293.10 L162.80,295.40 L160.50,297.70 L158.20,295.40 Z" fill="#000" stroke="#000" stroke-width="0.8"/>
<path d="M166.60,298.30 L168.90,300.60 L166.60,302.90 L164.30,300.60 Z" fill="#000" stroke="#000" stroke-width="0.8"/>
<path d="M166.60,350.30 L168.90,352.60 L166.60,354.90 L164.30,352.60 Z" fill="#000" stroke="#000" stroke-width="0.8"/>
<line x1="158.40" y1="305.10" x2="175.70" y2="305.10" stroke="#000" stroke-width="1.1" />
<line x1="166.60" y1="292.80" x2="166.60" y2="317.40" stroke="#000" stroke-width="1.1" />
<line x1="162.30" y1="292.80" x2="171.20" y2="292.80" stroke="#000" stroke-width="1.1" />
<line x1="162.30" y1="317.40" x2="171.20" y2="317.40" stroke="#000" stroke-width="1.1" />
<circle cx="167" cy="253" r="2.0" fill="#fff" stroke="#000" stroke-width="0.95"/>
<path d="M176.40,251.34 L178.40,254.94 L174.40,254.94 Z" fill="#fff" stroke="#000" stroke-width="0.75"/>
<path d="M185.60,250.50 L188.10,253.00 L185.60,255.50 L183.10,253.00 Z" fill="#fff" stroke="#000" stroke-width="0.8"/>
<circle cx="167" cy="263.6" r="2.0" fill="#000"/>
<path d="M176.40,262.06 L178.20,265.30 L174.60,265.30 Z" fill="#000" stroke="#000" stroke-width="0.75"/>
<path d="M185.60,261.20 L188.00,263.60 L185.60,266.00 L183.20,263.60 Z" fill="#000" stroke="#000" stroke-width="0.8"/>
<text x="196.60" y="254.90" font-size="8.0" text-anchor="start" fill="#111" textLength="21.3" lengthAdjust="spacingAndGlyphs" >KRAS</text>
<text x="218.10" y="248.60" font-size="5.0" text-anchor="start" fill="#222" >wt</text>
<text x="196.60" y="266.50" font-size="8.0" text-anchor="start" fill="#111" textLength="21.3" lengthAdjust="spacingAndGlyphs" >KRAS</text>
<text x="218.10" y="260.60" font-size="5.0" text-anchor="start" fill="#222" >mu</text>
<text x="235.50" y="9.40" font-size="11.7" text-anchor="start" fill="#000" font-weight="bold" >C</text>
<text x="278.80" y="12.30" font-size="6.6" text-anchor="start" fill="#111" textLength="23.0" lengthAdjust="spacingAndGlyphs" stroke="#111" stroke-width="0.2">wt KRAS</text>
<line x1="240.30" y1="17.50" x2="349.80" y2="17.50" stroke="#000" stroke-width="1.6" />
<text x="413.80" y="12.30" font-size="6.6" text-anchor="start" fill="#111" textLength="24.7" lengthAdjust="spacingAndGlyphs" stroke="#111" stroke-width="0.2">mu KRAS</text>
<line x1="375.00" y1="17.50" x2="484.40" y2="17.50" stroke="#000" stroke-width="1.6" />
<text x="483.00" y="30.80" font-size="4.2" text-anchor="start" fill="#333" stroke="#333" stroke-width="0.08">sh ctrl</text>
<text x="483.00" y="42.40" font-size="4.2" text-anchor="start" fill="#333" stroke="#333" stroke-width="0.08">sh Lig3α</text>
<rect x="500.00" y="25.45" width="3.20" height="3.20" fill="#fff" stroke="#222" stroke-width="0.6" />
<text x="506.00" y="28.55" font-size="4.2" text-anchor="start" fill="#333" stroke="#333" stroke-width="0.08">-  DOX</text>
<rect x="500.00" y="30.15" width="3.20" height="3.20" fill="#262626" stroke="#222" stroke-width="0.6" />
<text x="506.00" y="33.25" font-size="4.2" text-anchor="start" fill="#333" stroke="#333" stroke-width="0.08">+ DOX</text>
<rect x="500.00" y="37.05" width="3.20" height="3.20" fill="#dadada" stroke="#222" stroke-width="0.6" />
<text x="506.00" y="40.15" font-size="4.2" text-anchor="start" fill="#333" stroke="#333" stroke-width="0.08">-  DOX</text>
<rect x="500.00" y="41.75" width="3.20" height="3.20" fill="#555" stroke="#222" stroke-width="0.6" />
<text x="506.00" y="44.85" font-size="4.2" text-anchor="start" fill="#333" stroke="#333" stroke-width="0.08">+ DOX</text>
<text x="235.30" y="217.90" font-size="11.7" text-anchor="start" fill="#000" font-weight="bold" >D</text>
<text x="278.80" y="218.50" font-size="6.6" text-anchor="start" fill="#111" textLength="22.7" lengthAdjust="spacingAndGlyphs" stroke="#111" stroke-width="0.2">wt KRAS</text>
<line x1="240.30" y1="223.60" x2="349.00" y2="223.60" stroke="#000" stroke-width="1.6" />
<text x="418.50" y="218.50" font-size="6.6" text-anchor="start" fill="#111" textLength="25.0" lengthAdjust="spacingAndGlyphs" stroke="#111" stroke-width="0.2">mu KRAS</text>
<line x1="380.20" y1="223.60" x2="489.60" y2="223.60" stroke="#000" stroke-width="1.6" />
<text x="472.00" y="236.70" font-size="4.2" text-anchor="start" fill="#333" stroke="#333" stroke-width="0.08">sh ctrl</text>
<text x="472.00" y="248.40" font-size="4.2" text-anchor="start" fill="#333" stroke="#333" stroke-width="0.08">sh Lig3α</text>
<rect x="489.30" y="231.55" width="3.10" height="3.10" fill="#fff" stroke="#222" stroke-width="0.6" />
<text x="495.20" y="234.60" font-size="4.2" text-anchor="start" fill="#333" stroke="#333" stroke-width="0.08">-  DOX</text>
<rect x="489.30" y="235.95" width="3.10" height="3.10" fill="#262626" stroke="#222" stroke-width="0.6" />
<text x="495.20" y="239.00" font-size="4.2" text-anchor="start" fill="#333" stroke="#333" stroke-width="0.08">+ DOX</text>
<rect x="489.30" y="243.25" width="3.10" height="3.10" fill="#dadada" stroke="#222" stroke-width="0.6" />
<text x="495.20" y="246.30" font-size="4.2" text-anchor="start" fill="#333" stroke="#333" stroke-width="0.08">-  DOX</text>
<rect x="489.30" y="247.65" width="3.10" height="3.10" fill="#555" stroke="#222" stroke-width="0.6" />
<text x="495.20" y="250.70" font-size="4.2" text-anchor="start" fill="#333" stroke="#333" stroke-width="0.08">+ DOX</text>
<line x1="258.00" y1="28.10" x2="258.00" y2="90.90" stroke="#aaa" stroke-width="0.7" />
<line x1="258.00" y1="90.90" x2="333.60" y2="90.90" stroke="#aaa" stroke-width="0.7" />
<line x1="256.80" y1="90.90" x2="258.00" y2="90.90" stroke="#aaa" stroke-width="0.5" />
<text x="255.00" y="92.30" font-size="4.0" text-anchor="end" fill="#333" stroke="#333" stroke-width="0.15">0</text>
<line x1="256.80" y1="84.67" x2="258.00" y2="84.67" stroke="#aaa" stroke-width="0.5" />
<text x="255.00" y="86.07" font-size="4.0" text-anchor="end" fill="#333" stroke="#333" stroke-width="0.15">10</text>
<line x1="256.80" y1="78.44" x2="258.00" y2="78.44" stroke="#aaa" stroke-width="0.5" />
<text x="255.00" y="79.84" font-size="4.0" text-anchor="end" fill="#333" stroke="#333" stroke-width="0.15">20</text>
<line x1="256.80" y1="72.21" x2="258.00" y2="72.21" stroke="#aaa" stroke-width="0.5" />
<text x="255.00" y="73.61" font-size="4.0" text-anchor="end" fill="#333" stroke="#333" stroke-width="0.15">30</text>
<line x1="256.80" y1="65.98" x2="258.00" y2="65.98" stroke="#aaa" stroke-width="0.5" />
<text x="255.00" y="67.38" font-size="4.0" text-anchor="end" fill="#333" stroke="#333" stroke-width="0.15">40</text>
<line x1="256.80" y1="59.75" x2="258.00" y2="59.75" stroke="#aaa" stroke-width="0.5" />
<text x="255.00" y="61.15" font-size="4.0" text-anchor="end" fill="#333" stroke="#333" stroke-width="0.15">50</text>
<line x1="256.80" y1="53.52" x2="258.00" y2="53.52" stroke="#aaa" stroke-width="0.5" />
<text x="255.00" y="54.92" font-size="4.0" text-anchor="end" fill="#333" stroke="#333" stroke-width="0.15">60</text>
<line x1="256.80" y1="47.29" x2="258.00" y2="47.29" stroke="#aaa" stroke-width="0.5" />
<text x="255.00" y="48.69" font-size="4.0" text-anchor="end" fill="#333" stroke="#333" stroke-width="0.15">70</text>
<line x1="256.80" y1="41.06" x2="258.00" y2="41.06" stroke="#aaa" stroke-width="0.5" />
<text x="255.00" y="42.46" font-size="4.0" text-anchor="end" fill="#333" stroke="#333" stroke-width="0.15">80</text>
<line x1="256.80" y1="34.83" x2="258.00" y2="34.83" stroke="#aaa" stroke-width="0.5" />
<text x="255.00" y="36.23" font-size="4.0" text-anchor="end" fill="#333" stroke="#333" stroke-width="0.15">90</text>
<line x1="256.80" y1="28.60" x2="258.00" y2="28.60" stroke="#aaa" stroke-width="0.5" />
<text x="255.00" y="30.00" font-size="4.0" text-anchor="end" fill="#333" stroke="#333" stroke-width="0.15">100</text>
<line x1="258.00" y1="90.90" x2="258.00" y2="92.10" stroke="#aaa" stroke-width="0.5" />
<line x1="283.20" y1="90.90" x2="283.20" y2="92.10" stroke="#aaa" stroke-width="0.5" />
<line x1="308.40" y1="90.90" x2="308.40" y2="92.10" stroke="#aaa" stroke-width="0.5" />
<line x1="333.60" y1="90.90" x2="333.60" y2="92.10" stroke="#aaa" stroke-width="0.5" />
<text x="246.50" y="62.00" font-size="4.3" text-anchor="middle" fill="#333" textLength="21.0" lengthAdjust="spacingAndGlyphs" transform="rotate(-90 246.50 62.00)" stroke="#333" stroke-width="0.08">sub-G1 [%]</text>
<text x="286.90" y="31.00" font-size="4.4" text-anchor="middle" fill="#333" stroke="#333" stroke-width="0.08">THP-1</text>
<rect x="261.10" y="88.41" width="4.70" height="2.49" fill="#fff" stroke="#222" stroke-width="0.5" />
<rect x="265.80" y="88.41" width="4.70" height="2.49" fill="#262626" stroke="#222" stroke-width="0.5" />
<rect x="270.50" y="88.41" width="4.70" height="2.49" fill="#dadada" stroke="#222" stroke-width="0.5" />
<rect x="275.20" y="88.41" width="4.70" height="2.49" fill="#a0a0a0" stroke="#222" stroke-width="0.5" />
<text x="270.90" y="97.80" font-size="4.6" text-anchor="middle" fill="#222" stroke="#333" stroke-width="0.08">0</text>
<rect x="286.30" y="83.42" width="4.70" height="7.48" fill="#fff" stroke="#222" stroke-width="0.5" />
<rect x="291.00" y="84.05" width="4.70" height="6.85" fill="#262626" stroke="#222" stroke-width="0.5" />
<line x1="298.05" y1="80.31" x2="298.05" y2="76.57" stroke="#444" stroke-width="0.4" />
<line x1="297.25" y1="76.57" x2="298.85" y2="76.57" stroke="#444" stroke-width="0.4" />
<rect x="295.70" y="80.31" width="4.70" height="10.59" fill="#dadada" stroke="#222" stroke-width="0.5" />
<rect x="300.40" y="84.67" width="4.70" height="6.23" fill="#a0a0a0" stroke="#222" stroke-width="0.5" />
<text x="296.10" y="97.80" font-size="4.6" text-anchor="middle" fill="#222" stroke="#333" stroke-width="0.08">15</text>
<rect x="311.50" y="76.57" width="4.70" height="14.33" fill="#fff" stroke="#222" stroke-width="0.5" />
<rect x="316.20" y="73.46" width="4.70" height="17.44" fill="#262626" stroke="#222" stroke-width="0.5" />
<line x1="323.25" y1="77.19" x2="323.25" y2="75.95" stroke="#444" stroke-width="0.4" />
<line x1="322.45" y1="75.95" x2="324.05" y2="75.95" stroke="#444" stroke-width="0.4" />
<rect x="320.90" y="77.19" width="4.70" height="13.71" fill="#dadada" stroke="#222" stroke-width="0.5" />
<line x1="327.95" y1="79.69" x2="327.95" y2="78.44" stroke="#444" stroke-width="0.4" />
<line x1="327.15" y1="78.44" x2="328.75" y2="78.44" stroke="#444" stroke-width="0.4" />
<rect x="325.60" y="79.69" width="4.70" height="11.21" fill="#a0a0a0" stroke="#222" stroke-width="0.5" />
<text x="321.30" y="97.80" font-size="4.6" text-anchor="middle" fill="#222" stroke="#333" stroke-width="0.08">30</text>
<text x="297.30" y="103.10" font-size="4.6" text-anchor="middle" fill="#222" textLength="18.6" lengthAdjust="spacingAndGlyphs" stroke="#333" stroke-width="0.08">DNR [nM]</text>
<line x1="258.10" y1="115.40" x2="258.10" y2="178.50" stroke="#aaa" stroke-width="0.7" />
<line x1="258.10" y1="178.50" x2="333.70" y2="178.50" stroke="#aaa" stroke-width="0.7" />
<line x1="256.90" y1="178.50" x2="258.10" y2="178.50" stroke="#aaa" stroke-width="0.5" />
<text x="255.10" y="179.90" font-size="4.0" text-anchor="end" fill="#333" stroke="#333" stroke-width="0.15">0</text>
<line x1="256.90" y1="172.24" x2="258.10" y2="172.24" stroke="#aaa" stroke-width="0.5" />
<text x="255.10" y="173.64" font-size="4.0" text-anchor="end" fill="#333" stroke="#333" stroke-width="0.15">10</text>
<line x1="256.90" y1="165.98" x2="258.10" y2="165.98" stroke="#aaa" stroke-width="0.5" />
<text x="255.10" y="167.38" font-size="4.0" text-anchor="end" fill="#333" stroke="#333" stroke-width="0.15">20</text>
<line x1="256.90" y1="159.72" x2="258.10" y2="159.72" stroke="#aaa" stroke-width="0.5" />
<text x="255.10" y="161.12" font-size="4.0" text-anchor="end" fill="#333" stroke="#333" stroke-width="0.15">30</text>
<line x1="256.90" y1="153.46" x2="258.10" y2="153.46" stroke="#aaa" stroke-width="0.5" />
<text x="255.10" y="154.86" font-size="4.0" text-anchor="end" fill="#333" stroke="#333" stroke-width="0.15">40</text>
<line x1="256.90" y1="147.20" x2="258.10" y2="147.20" stroke="#aaa" stroke-width="0.5" />
<text x="255.10" y="148.60" font-size="4.0" text-anchor="end" fill="#333" stroke="#333" stroke-width="0.15">50</text>
<line x1="256.90" y1="140.94" x2="258.10" y2="140.94" stroke="#aaa" stroke-width="0.5" />
<text x="255.10" y="142.34" font-size="4.0" text-anchor="end" fill="#333" stroke="#333" stroke-width="0.15">60</text>
<line x1="256.90" y1="134.68" x2="258.10" y2="134.68" stroke="#aaa" stroke-width="0.5" />
<text x="255.10" y="136.08" font-size="4.0" text-anchor="end" fill="#333" stroke="#333" stroke-width="0.15">70</text>
<line x1="256.90" y1="128.42" x2="258.10" y2="128.42" stroke="#aaa" stroke-width="0.5" />
<text x="255.10" y="129.82" font-size="4.0" text-anchor="end" fill="#333" stroke="#333" stroke-width="0.15">80</text>
<line x1="256.90" y1="122.16" x2="258.10" y2="122.16" stroke="#aaa" stroke-width="0.5" />
<text x="255.10" y="123.56" font-size="4.0" text-anchor="end" fill="#333" stroke="#333" stroke-width="0.15">90</text>
<line x1="256.90" y1="115.90" x2="258.10" y2="115.90" stroke="#aaa" stroke-width="0.5" />
<text x="255.10" y="117.30" font-size="4.0" text-anchor="end" fill="#333" stroke="#333" stroke-width="0.15">100</text>
<line x1="258.10" y1="178.50" x2="258.10" y2="179.70" stroke="#aaa" stroke-width="0.5" />
<line x1="283.30" y1="178.50" x2="283.30" y2="179.70" stroke="#aaa" stroke-width="0.5" />
<line x1="308.50" y1="178.50" x2="308.50" y2="179.70" stroke="#aaa" stroke-width="0.5" />
<line x1="333.70" y1="178.50" x2="333.70" y2="179.70" stroke="#aaa" stroke-width="0.5" />
<text x="246.30" y="144.50" font-size="4.3" text-anchor="middle" fill="#333" textLength="21.0" lengthAdjust="spacingAndGlyphs" transform="rotate(-90 246.30 144.50)" stroke="#333" stroke-width="0.08">sub-G1 [%]</text>
<text x="286.60" y="113.50" font-size="4.4" text-anchor="middle" fill="#333" stroke="#333" stroke-width="0.08">U-937</text>
<rect x="261.20" y="174.18" width="4.70" height="4.32" fill="#fff" stroke="#222" stroke-width="0.5" />
<rect x="265.90" y="174.62" width="4.70" height="3.88" fill="#262626" stroke="#222" stroke-width="0.5" />
<rect x="270.60" y="173.43" width="4.70" height="5.07" fill="#dadada" stroke="#222" stroke-width="0.5" />
<rect x="275.30" y="173.43" width="4.70" height="5.07" fill="#a0a0a0" stroke="#222" stroke-width="0.5" />
<text x="271.00" y="185.10" font-size="4.6" text-anchor="middle" fill="#222" stroke="#333" stroke-width="0.08">0</text>
<line x1="288.75" y1="155.09" x2="288.75" y2="153.08" stroke="#444" stroke-width="0.4" />
<line x1="287.95" y1="153.08" x2="289.55" y2="153.08" stroke="#444" stroke-width="0.4" />
<rect x="286.40" y="155.09" width="4.70" height="23.41" fill="#fff" stroke="#222" stroke-width="0.5" />
<line x1="293.45" y1="155.78" x2="293.45" y2="153.46" stroke="#444" stroke-width="0.4" />
<line x1="292.65" y1="153.46" x2="294.25" y2="153.46" stroke="#444" stroke-width="0.4" />
<rect x="291.10" y="155.78" width="4.70" height="22.72" fill="#262626" stroke="#222" stroke-width="0.5" />
<line x1="298.15" y1="157.22" x2="298.15" y2="154.59" stroke="#444" stroke-width="0.4" />
<line x1="297.35" y1="154.59" x2="298.95" y2="154.59" stroke="#444" stroke-width="0.4" />
<rect x="295.80" y="157.22" width="4.70" height="21.28" fill="#dadada" stroke="#222" stroke-width="0.5" />
<rect x="300.50" y="154.59" width="4.70" height="23.91" fill="#a0a0a0" stroke="#222" stroke-width="0.5" />
<text x="296.20" y="185.10" font-size="4.6" text-anchor="middle" fill="#222" stroke="#333" stroke-width="0.08">15</text>
<line x1="313.95" y1="151.52" x2="313.95" y2="146.20" stroke="#444" stroke-width="0.4" />
<line x1="313.15" y1="146.20" x2="314.75" y2="146.20" stroke="#444" stroke-width="0.4" />
<rect x="311.60" y="151.52" width="4.70" height="26.98" fill="#fff" stroke="#222" stroke-width="0.5" />
<line x1="318.65" y1="147.39" x2="318.65" y2="142.38" stroke="#444" stroke-width="0.4" />
<line x1="317.85" y1="142.38" x2="319.45" y2="142.38" stroke="#444" stroke-width="0.4" />
<rect x="316.30" y="147.39" width="4.70" height="31.11" fill="#262626" stroke="#222" stroke-width="0.5" />
<line x1="323.35" y1="151.52" x2="323.35" y2="145.38" stroke="#444" stroke-width="0.4" />
<line x1="322.55" y1="145.38" x2="324.15" y2="145.38" stroke="#444" stroke-width="0.4" />
<rect x="321.00" y="151.52" width="4.70" height="26.98" fill="#dadada" stroke="#222" stroke-width="0.5" />
<rect x="325.70" y="150.33" width="4.70" height="28.17" fill="#a0a0a0" stroke="#222" stroke-width="0.5" />
<text x="321.40" y="185.10" font-size="4.6" text-anchor="middle" fill="#222" stroke="#333" stroke-width="0.08">30</text>
<text x="297.00" y="190.10" font-size="4.6" text-anchor="middle" fill="#222" textLength="18.6" lengthAdjust="spacingAndGlyphs" stroke="#333" stroke-width="0.08">DNR [nM]</text>
<line x1="400.00" y1="28.10" x2="400.00" y2="91.10" stroke="#aaa" stroke-width="0.7" />
<line x1="400.00" y1="91.10" x2="475.60" y2="91.10" stroke="#aaa" stroke-width="0.7" />
<line x1="398.80" y1="91.10" x2="400.00" y2="91.10" stroke="#aaa" stroke-width="0.5" />
<text x="397.00" y="92.50" font-size="4.0" text-anchor="end" fill="#333" stroke="#333" stroke-width="0.15">0</text>
<line x1="398.80" y1="84.85" x2="400.00" y2="84.85" stroke="#aaa" stroke-width="0.5" />
<text x="397.00" y="86.25" font-size="4.0" text-anchor="end" fill="#333" stroke="#333" stroke-width="0.15">10</text>
<line x1="398.80" y1="78.60" x2="400.00" y2="78.60" stroke="#aaa" stroke-width="0.5" />
<text x="397.00" y="80.00" font-size="4.0" text-anchor="end" fill="#333" stroke="#333" stroke-width="0.15">20</text>
<line x1="398.80" y1="72.35" x2="400.00" y2="72.35" stroke="#aaa" stroke-width="0.5" />
<text x="397.00" y="73.75" font-size="4.0" text-anchor="end" fill="#333" stroke="#333" stroke-width="0.15">30</text>
<line x1="398.80" y1="66.10" x2="400.00" y2="66.10" stroke="#aaa" stroke-width="0.5" />
<text x="397.00" y="67.50" font-size="4.0" text-anchor="end" fill="#333" stroke="#333" stroke-width="0.15">40</text>
<line x1="398.80" y1="59.85" x2="400.00" y2="59.85" stroke="#aaa" stroke-width="0.5" />
<text x="397.00" y="61.25" font-size="4.0" text-anchor="end" fill="#333" stroke="#333" stroke-width="0.15">50</text>
<line x1="398.80" y1="53.60" x2="400.00" y2="53.60" stroke="#aaa" stroke-width="0.5" />
<text x="397.00" y="55.00" font-size="4.0" text-anchor="end" fill="#333" stroke="#333" stroke-width="0.15">60</text>
<line x1="398.80" y1="47.35" x2="400.00" y2="47.35" stroke="#aaa" stroke-width="0.5" />
<text x="397.00" y="48.75" font-size="4.0" text-anchor="end" fill="#333" stroke="#333" stroke-width="0.15">70</text>
<line x1="398.80" y1="41.10" x2="400.00" y2="41.10" stroke="#aaa" stroke-width="0.5" />
<text x="397.00" y="42.50" font-size="4.0" text-anchor="end" fill="#333" stroke="#333" stroke-width="0.15">80</text>
<line x1="398.80" y1="34.85" x2="400.00" y2="34.85" stroke="#aaa" stroke-width="0.5" />
<text x="397.00" y="36.25" font-size="4.0" text-anchor="end" fill="#333" stroke="#333" stroke-width="0.15">90</text>
<line x1="398.80" y1="28.60" x2="400.00" y2="28.60" stroke="#aaa" stroke-width="0.5" />
<text x="397.00" y="30.00" font-size="4.0" text-anchor="end" fill="#333" stroke="#333" stroke-width="0.15">100</text>
<line x1="400.00" y1="91.10" x2="400.00" y2="92.30" stroke="#aaa" stroke-width="0.5" />
<line x1="425.20" y1="91.10" x2="425.20" y2="92.30" stroke="#aaa" stroke-width="0.5" />
<line x1="450.40" y1="91.10" x2="450.40" y2="92.30" stroke="#aaa" stroke-width="0.5" />
<line x1="475.60" y1="91.10" x2="475.60" y2="92.30" stroke="#aaa" stroke-width="0.5" />
<text x="390.00" y="62.40" font-size="4.3" text-anchor="middle" fill="#333" textLength="21.0" lengthAdjust="spacingAndGlyphs" transform="rotate(-90 390.00 62.40)" stroke="#333" stroke-width="0.08">sub-G1 [%]</text>
<text x="437.30" y="31.40" font-size="4.4" text-anchor="middle" fill="#333" stroke="#333" stroke-width="0.08">NB-4</text>
<rect x="403.10" y="82.97" width="4.70" height="8.12" fill="#fff" stroke="#222" stroke-width="0.5" />
<rect x="407.80" y="81.72" width="4.70" height="9.37" fill="#262626" stroke="#222" stroke-width="0.5" />
<rect x="412.50" y="81.72" width="4.70" height="9.37" fill="#dadada" stroke="#222" stroke-width="0.5" />
<rect x="417.20" y="82.35" width="4.70" height="8.75" fill="#a0a0a0" stroke="#222" stroke-width="0.5" />
<text x="412.90" y="97.60" font-size="4.6" text-anchor="middle" fill="#222" stroke="#333" stroke-width="0.08">0</text>
<rect x="428.30" y="80.47" width="4.70" height="10.62" fill="#fff" stroke="#222" stroke-width="0.5" />
<rect x="433.00" y="78.97" width="4.70" height="12.12" fill="#262626" stroke="#222" stroke-width="0.5" />
<line x1="440.05" y1="74.35" x2="440.05" y2="73.72" stroke="#444" stroke-width="0.4" />
<line x1="439.25" y1="73.72" x2="440.85" y2="73.72" stroke="#444" stroke-width="0.4" />
<rect x="437.70" y="74.35" width="4.70" height="16.75" fill="#dadada" stroke="#222" stroke-width="0.5" />
<line x1="444.75" y1="49.23" x2="444.75" y2="48.60" stroke="#444" stroke-width="0.4" />
<line x1="443.95" y1="48.60" x2="445.55" y2="48.60" stroke="#444" stroke-width="0.4" />
<rect x="442.40" y="49.23" width="4.70" height="41.87" fill="#a0a0a0" stroke="#222" stroke-width="0.5" />
<text x="438.10" y="97.60" font-size="4.6" text-anchor="middle" fill="#222" stroke="#333" stroke-width="0.08">15</text>
<line x1="455.85" y1="74.16" x2="455.85" y2="69.79" stroke="#444" stroke-width="0.4" />
<line x1="455.05" y1="69.79" x2="456.65" y2="69.79" stroke="#444" stroke-width="0.4" />
<rect x="453.50" y="74.16" width="4.70" height="16.94" fill="#fff" stroke="#222" stroke-width="0.5" />
<rect x="458.20" y="80.47" width="4.70" height="10.62" fill="#262626" stroke="#222" stroke-width="0.5" />
<line x1="465.25" y1="73.35" x2="465.25" y2="72.72" stroke="#444" stroke-width="0.4" />
<line x1="464.45" y1="72.72" x2="466.05" y2="72.72" stroke="#444" stroke-width="0.4" />
<rect x="462.90" y="73.35" width="4.70" height="17.75" fill="#dadada" stroke="#222" stroke-width="0.5" />
<line x1="469.95" y1="44.23" x2="469.95" y2="43.60" stroke="#444" stroke-width="0.4" />
<line x1="469.15" y1="43.60" x2="470.75" y2="43.60" stroke="#444" stroke-width="0.4" />
<rect x="467.60" y="44.23" width="4.70" height="46.87" fill="#a0a0a0" stroke="#222" stroke-width="0.5" />
<text x="463.30" y="97.60" font-size="4.6" text-anchor="middle" fill="#222" stroke="#333" stroke-width="0.08">30</text>
<text x="447.00" y="47.90" font-size="4.0" text-anchor="middle" fill="#444" >****</text>
<text x="472.00" y="43.00" font-size="4.0" text-anchor="middle" fill="#444" >****</text>
<line x1="400.20" y1="115.40" x2="400.20" y2="178.50" stroke="#aaa" stroke-width="0.7" />
<line x1="400.20" y1="178.50" x2="475.80" y2="178.50" stroke="#aaa" stroke-width="0.7" />
<line x1="399.00" y1="178.50" x2="400.20" y2="178.50" stroke="#aaa" stroke-width="0.5" />
<text x="397.20" y="179.90" font-size="4.0" text-anchor="end" fill="#333" stroke="#333" stroke-width="0.15">0</text>
<line x1="399.00" y1="172.24" x2="400.20" y2="172.24" stroke="#aaa" stroke-width="0.5" />
<text x="397.20" y="173.64" font-size="4.0" text-anchor="end" fill="#333" stroke="#333" stroke-width="0.15">10</text>
<line x1="399.00" y1="165.98" x2="400.20" y2="165.98" stroke="#aaa" stroke-width="0.5" />
<text x="397.20" y="167.38" font-size="4.0" text-anchor="end" fill="#333" stroke="#333" stroke-width="0.15">20</text>
<line x1="399.00" y1="159.72" x2="400.20" y2="159.72" stroke="#aaa" stroke-width="0.5" />
<text x="397.20" y="161.12" font-size="4.0" text-anchor="end" fill="#333" stroke="#333" stroke-width="0.15">30</text>
<line x1="399.00" y1="153.46" x2="400.20" y2="153.46" stroke="#aaa" stroke-width="0.5" />
<text x="397.20" y="154.86" font-size="4.0" text-anchor="end" fill="#333" stroke="#333" stroke-width="0.15">40</text>
<line x1="399.00" y1="147.20" x2="400.20" y2="147.20" stroke="#aaa" stroke-width="0.5" />
<text x="397.20" y="148.60" font-size="4.0" text-anchor="end" fill="#333" stroke="#333" stroke-width="0.15">50</text>
<line x1="399.00" y1="140.94" x2="400.20" y2="140.94" stroke="#aaa" stroke-width="0.5" />
<text x="397.20" y="142.34" font-size="4.0" text-anchor="end" fill="#333" stroke="#333" stroke-width="0.15">60</text>
<line x1="399.00" y1="134.68" x2="400.20" y2="134.68" stroke="#aaa" stroke-width="0.5" />
<text x="397.20" y="136.08" font-size="4.0" text-anchor="end" fill="#333" stroke="#333" stroke-width="0.15">70</text>
<line x1="399.00" y1="128.42" x2="400.20" y2="128.42" stroke="#aaa" stroke-width="0.5" />
<text x="397.20" y="129.82" font-size="4.0" text-anchor="end" fill="#333" stroke="#333" stroke-width="0.15">80</text>
<line x1="399.00" y1="122.16" x2="400.20" y2="122.16" stroke="#aaa" stroke-width="0.5" />
<text x="397.20" y="123.56" font-size="4.0" text-anchor="end" fill="#333" stroke="#333" stroke-width="0.15">90</text>
<line x1="399.00" y1="115.90" x2="400.20" y2="115.90" stroke="#aaa" stroke-width="0.5" />
<text x="397.20" y="117.30" font-size="4.0" text-anchor="end" fill="#333" stroke="#333" stroke-width="0.15">100</text>
<line x1="400.20" y1="178.50" x2="400.20" y2="179.70" stroke="#aaa" stroke-width="0.5" />
<line x1="425.40" y1="178.50" x2="425.40" y2="179.70" stroke="#aaa" stroke-width="0.5" />
<line x1="450.60" y1="178.50" x2="450.60" y2="179.70" stroke="#aaa" stroke-width="0.5" />
<line x1="475.80" y1="178.50" x2="475.80" y2="179.70" stroke="#aaa" stroke-width="0.5" />
<text x="390.20" y="145.00" font-size="4.3" text-anchor="middle" fill="#333" textLength="21.0" lengthAdjust="spacingAndGlyphs" transform="rotate(-90 390.20 145.00)" stroke="#333" stroke-width="0.08">sub-G1 [%]</text>
<text x="428.60" y="113.00" font-size="4.4" text-anchor="middle" fill="#333" stroke="#333" stroke-width="0.08">SKM-1</text>
<rect x="403.30" y="177.25" width="4.70" height="1.25" fill="#fff" stroke="#222" stroke-width="0.5" />
<rect x="408.00" y="176.62" width="4.70" height="1.88" fill="#262626" stroke="#222" stroke-width="0.5" />
<rect x="412.70" y="176.62" width="4.70" height="1.88" fill="#dadada" stroke="#222" stroke-width="0.5" />
<line x1="419.75" y1="176.00" x2="419.75" y2="175.37" stroke="#444" stroke-width="0.4" />
<line x1="418.95" y1="175.37" x2="420.55" y2="175.37" stroke="#444" stroke-width="0.4" />
<rect x="417.40" y="176.00" width="4.70" height="2.50" fill="#a0a0a0" stroke="#222" stroke-width="0.5" />
<text x="413.10" y="185.10" font-size="4.6" text-anchor="middle" fill="#222" stroke="#333" stroke-width="0.08">0</text>
<rect x="428.50" y="170.36" width="4.70" height="8.14" fill="#fff" stroke="#222" stroke-width="0.5" />
<rect x="433.20" y="174.12" width="4.70" height="4.38" fill="#262626" stroke="#222" stroke-width="0.5" />
<rect x="437.90" y="173.49" width="4.70" height="5.01" fill="#dadada" stroke="#222" stroke-width="0.5" />
<line x1="444.95" y1="149.70" x2="444.95" y2="149.08" stroke="#444" stroke-width="0.4" />
<line x1="444.15" y1="149.08" x2="445.75" y2="149.08" stroke="#444" stroke-width="0.4" />
<rect x="442.60" y="149.70" width="4.70" height="28.80" fill="#a0a0a0" stroke="#222" stroke-width="0.5" />
<text x="438.30" y="185.10" font-size="4.6" text-anchor="middle" fill="#222" stroke="#333" stroke-width="0.08">30</text>
<rect x="453.70" y="162.22" width="4.70" height="16.28" fill="#fff" stroke="#222" stroke-width="0.5" />
<rect x="458.40" y="162.85" width="4.70" height="15.65" fill="#262626" stroke="#222" stroke-width="0.5" />
<rect x="463.10" y="166.61" width="4.70" height="11.89" fill="#dadada" stroke="#222" stroke-width="0.5" />
<line x1="470.15" y1="144.07" x2="470.15" y2="139.69" stroke="#444" stroke-width="0.4" />
<line x1="469.35" y1="139.69" x2="470.95" y2="139.69" stroke="#444" stroke-width="0.4" />
<rect x="467.80" y="144.07" width="4.70" height="34.43" fill="#a0a0a0" stroke="#222" stroke-width="0.5" />
<text x="463.50" y="185.10" font-size="4.6" text-anchor="middle" fill="#222" stroke="#333" stroke-width="0.08">60</text>
<text x="440.00" y="190.10" font-size="4.6" text-anchor="middle" fill="#222" textLength="18.6" lengthAdjust="spacingAndGlyphs" stroke="#333" stroke-width="0.08">DNR [nM]</text>
<text x="445.00" y="148.80" font-size="4.0" text-anchor="middle" fill="#444" >***</text>
<text x="469.70" y="139.70" font-size="4.0" text-anchor="middle" fill="#444" >***</text>
<line x1="258.10" y1="239.50" x2="258.10" y2="293.60" stroke="#aaa" stroke-width="0.7" />
<line x1="258.10" y1="293.60" x2="322.30" y2="293.60" stroke="#aaa" stroke-width="0.7" />
<line x1="256.90" y1="293.60" x2="258.10" y2="293.60" stroke="#aaa" stroke-width="0.5" />
<text x="255.10" y="295.00" font-size="4.0" text-anchor="end" fill="#333" stroke="#333" stroke-width="0.15">0</text>
<line x1="256.90" y1="288.24" x2="258.10" y2="288.24" stroke="#aaa" stroke-width="0.5" />
<text x="255.10" y="289.64" font-size="4.0" text-anchor="end" fill="#333" stroke="#333" stroke-width="0.15">10</text>
<line x1="256.90" y1="282.88" x2="258.10" y2="282.88" stroke="#aaa" stroke-width="0.5" />
<text x="255.10" y="284.28" font-size="4.0" text-anchor="end" fill="#333" stroke="#333" stroke-width="0.15">20</text>
<line x1="256.90" y1="277.52" x2="258.10" y2="277.52" stroke="#aaa" stroke-width="0.5" />
<text x="255.10" y="278.92" font-size="4.0" text-anchor="end" fill="#333" stroke="#333" stroke-width="0.15">30</text>
<line x1="256.90" y1="272.16" x2="258.10" y2="272.16" stroke="#aaa" stroke-width="0.5" />
<text x="255.10" y="273.56" font-size="4.0" text-anchor="end" fill="#333" stroke="#333" stroke-width="0.15">40</text>
<line x1="256.90" y1="266.80" x2="258.10" y2="266.80" stroke="#aaa" stroke-width="0.5" />
<text x="255.10" y="268.20" font-size="4.0" text-anchor="end" fill="#333" stroke="#333" stroke-width="0.15">50</text>
<line x1="256.90" y1="261.44" x2="258.10" y2="261.44" stroke="#aaa" stroke-width="0.5" />
<text x="255.10" y="262.84" font-size="4.0" text-anchor="end" fill="#333" stroke="#333" stroke-width="0.15">60</text>
<line x1="256.90" y1="256.08" x2="258.10" y2="256.08" stroke="#aaa" stroke-width="0.5" />
<text x="255.10" y="257.48" font-size="4.0" text-anchor="end" fill="#333" stroke="#333" stroke-width="0.15">70</text>
<line x1="256.90" y1="250.72" x2="258.10" y2="250.72" stroke="#aaa" stroke-width="0.5" />
<text x="255.10" y="252.12" font-size="4.0" text-anchor="end" fill="#333" stroke="#333" stroke-width="0.15">80</text>
<line x1="256.90" y1="245.36" x2="258.10" y2="245.36" stroke="#aaa" stroke-width="0.5" />
<text x="255.10" y="246.76" font-size="4.0" text-anchor="end" fill="#333" stroke="#333" stroke-width="0.15">90</text>
<line x1="256.90" y1="240.00" x2="258.10" y2="240.00" stroke="#aaa" stroke-width="0.5" />
<text x="255.10" y="241.40" font-size="4.0" text-anchor="end" fill="#333" stroke="#333" stroke-width="0.15">100</text>
<line x1="258.10" y1="293.60" x2="258.10" y2="294.80" stroke="#aaa" stroke-width="0.5" />
<line x1="279.50" y1="293.60" x2="279.50" y2="294.80" stroke="#aaa" stroke-width="0.5" />
<line x1="300.90" y1="293.60" x2="300.90" y2="294.80" stroke="#aaa" stroke-width="0.5" />
<line x1="322.30" y1="293.60" x2="322.30" y2="294.80" stroke="#aaa" stroke-width="0.5" />
<text x="246.40" y="266.60" font-size="4.3" text-anchor="middle" fill="#333" textLength="21.0" lengthAdjust="spacingAndGlyphs" transform="rotate(-90 246.40 266.60)" stroke="#333" stroke-width="0.08">sub-G1 [%]</text>
<text x="286.70" y="237.40" font-size="4.4" text-anchor="middle" fill="#333" stroke="#333" stroke-width="0.08">THP-1</text>
<rect x="261.40" y="286.42" width="4.05" height="7.18" fill="#fff" stroke="#222" stroke-width="0.5" />
<rect x="265.45" y="288.72" width="4.05" height="4.88" fill="#262626" stroke="#222" stroke-width="0.5" />
<rect x="269.50" y="285.56" width="4.05" height="8.04" fill="#dadada" stroke="#222" stroke-width="0.5" />
<rect x="273.55" y="287.81" width="4.05" height="5.79" fill="#a0a0a0" stroke="#222" stroke-width="0.5" />
<text x="269.10" y="299.70" font-size="4.6" text-anchor="middle" fill="#222" stroke="#333" stroke-width="0.08">0</text>
<rect x="282.80" y="254.10" width="4.05" height="39.50" fill="#fff" stroke="#222" stroke-width="0.5" />
<line x1="288.88" y1="256.08" x2="288.88" y2="252.33" stroke="#444" stroke-width="0.4" />
<line x1="288.07" y1="252.33" x2="289.68" y2="252.33" stroke="#444" stroke-width="0.4" />
<rect x="286.85" y="256.08" width="4.05" height="37.52" fill="#262626" stroke="#222" stroke-width="0.5" />
<line x1="292.93" y1="256.62" x2="292.93" y2="253.94" stroke="#444" stroke-width="0.4" />
<line x1="292.12" y1="253.94" x2="293.73" y2="253.94" stroke="#444" stroke-width="0.4" />
<rect x="290.90" y="256.62" width="4.05" height="36.98" fill="#dadada" stroke="#222" stroke-width="0.5" />
<line x1="296.97" y1="254.79" x2="296.97" y2="251.26" stroke="#444" stroke-width="0.4" />
<line x1="296.17" y1="251.26" x2="297.77" y2="251.26" stroke="#444" stroke-width="0.4" />
<rect x="294.95" y="254.79" width="4.05" height="38.81" fill="#a0a0a0" stroke="#222" stroke-width="0.5" />
<text x="290.50" y="299.70" font-size="4.6" text-anchor="middle" fill="#222" stroke="#333" stroke-width="0.08">0.8</text>
<rect x="304.20" y="253.40" width="4.05" height="40.20" fill="#fff" stroke="#222" stroke-width="0.5" />
<line x1="310.28" y1="254.10" x2="310.28" y2="250.88" stroke="#444" stroke-width="0.4" />
<line x1="309.48" y1="250.88" x2="311.08" y2="250.88" stroke="#444" stroke-width="0.4" />
<rect x="308.25" y="254.10" width="4.05" height="39.50" fill="#262626" stroke="#222" stroke-width="0.5" />
<line x1="314.33" y1="254.10" x2="314.33" y2="250.88" stroke="#444" stroke-width="0.4" />
<line x1="313.53" y1="250.88" x2="315.13" y2="250.88" stroke="#444" stroke-width="0.4" />
<rect x="312.30" y="254.10" width="4.05" height="39.50" fill="#dadada" stroke="#222" stroke-width="0.5" />
<line x1="318.38" y1="253.29" x2="318.38" y2="248.47" stroke="#444" stroke-width="0.4" />
<line x1="317.57" y1="248.47" x2="319.18" y2="248.47" stroke="#444" stroke-width="0.4" />
<rect x="316.35" y="253.29" width="4.05" height="40.31" fill="#a0a0a0" stroke="#222" stroke-width="0.5" />
<text x="311.90" y="299.70" font-size="4.6" text-anchor="middle" fill="#222" stroke="#333" stroke-width="0.08">1.6</text>
<text x="294.30" y="305.00" font-size="4.6" text-anchor="middle" fill="#222" textLength="21.2" lengthAdjust="spacingAndGlyphs" stroke="#333" stroke-width="0.08">VP-16 [µM]</text>
<line x1="399.60" y1="238.30" x2="399.60" y2="292.50" stroke="#aaa" stroke-width="0.7" />
<line x1="399.60" y1="292.50" x2="463.80" y2="292.50" stroke="#aaa" stroke-width="0.7" />
<line x1="398.40" y1="292.50" x2="399.60" y2="292.50" stroke="#aaa" stroke-width="0.5" />
<text x="396.60" y="293.90" font-size="4.0" text-anchor="end" fill="#333" stroke="#333" stroke-width="0.15">0</text>
<line x1="398.40" y1="287.13" x2="399.60" y2="287.13" stroke="#aaa" stroke-width="0.5" />
<text x="396.60" y="288.53" font-size="4.0" text-anchor="end" fill="#333" stroke="#333" stroke-width="0.15">10</text>
<line x1="398.40" y1="281.76" x2="399.60" y2="281.76" stroke="#aaa" stroke-width="0.5" />
<text x="396.60" y="283.16" font-size="4.0" text-anchor="end" fill="#333" stroke="#333" stroke-width="0.15">20</text>
<line x1="398.40" y1="276.39" x2="399.60" y2="276.39" stroke="#aaa" stroke-width="0.5" />
<text x="396.60" y="277.79" font-size="4.0" text-anchor="end" fill="#333" stroke="#333" stroke-width="0.15">30</text>
<line x1="398.40" y1="271.02" x2="399.60" y2="271.02" stroke="#aaa" stroke-width="0.5" />
<text x="396.60" y="272.42" font-size="4.0" text-anchor="end" fill="#333" stroke="#333" stroke-width="0.15">40</text>
<line x1="398.40" y1="265.65" x2="399.60" y2="265.65" stroke="#aaa" stroke-width="0.5" />
<text x="396.60" y="267.05" font-size="4.0" text-anchor="end" fill="#333" stroke="#333" stroke-width="0.15">50</text>
<line x1="398.40" y1="260.28" x2="399.60" y2="260.28" stroke="#aaa" stroke-width="0.5" />
<text x="396.60" y="261.68" font-size="4.0" text-anchor="end" fill="#333" stroke="#333" stroke-width="0.15">60</text>
<line x1="398.40" y1="254.91" x2="399.60" y2="254.91" stroke="#aaa" stroke-width="0.5" />
<text x="396.60" y="256.31" font-size="4.0" text-anchor="end" fill="#333" stroke="#333" stroke-width="0.15">70</text>
<line x1="398.40" y1="249.54" x2="399.60" y2="249.54" stroke="#aaa" stroke-width="0.5" />
<text x="396.60" y="250.94" font-size="4.0" text-anchor="end" fill="#333" stroke="#333" stroke-width="0.15">80</text>
<line x1="398.40" y1="244.17" x2="399.60" y2="244.17" stroke="#aaa" stroke-width="0.5" />
<text x="396.60" y="245.57" font-size="4.0" text-anchor="end" fill="#333" stroke="#333" stroke-width="0.15">90</text>
<line x1="398.40" y1="238.80" x2="399.60" y2="238.80" stroke="#aaa" stroke-width="0.5" />
<text x="396.60" y="240.20" font-size="4.0" text-anchor="end" fill="#333" stroke="#333" stroke-width="0.15">100</text>
<line x1="399.60" y1="292.50" x2="399.60" y2="293.70" stroke="#aaa" stroke-width="0.5" />
<line x1="421.00" y1="292.50" x2="421.00" y2="293.70" stroke="#aaa" stroke-width="0.5" />
<line x1="442.40" y1="292.50" x2="442.40" y2="293.70" stroke="#aaa" stroke-width="0.5" />
<line x1="463.80" y1="292.50" x2="463.80" y2="293.70" stroke="#aaa" stroke-width="0.5" />
<text x="389.20" y="267.30" font-size="4.3" text-anchor="middle" fill="#333" textLength="21.0" lengthAdjust="spacingAndGlyphs" transform="rotate(-90 389.20 267.30)" stroke="#333" stroke-width="0.08">sub-G1 [%]</text>
<text x="427.00" y="237.50" font-size="4.4" text-anchor="middle" fill="#333" stroke="#333" stroke-width="0.08">NB-4</text>
<line x1="404.02" y1="288.20" x2="404.02" y2="286.59" stroke="#444" stroke-width="0.4" />
<line x1="403.22" y1="286.59" x2="404.82" y2="286.59" stroke="#444" stroke-width="0.4" />
<rect x="402.00" y="288.20" width="4.05" height="4.30" fill="#fff" stroke="#222" stroke-width="0.5" />
<rect x="406.05" y="288.74" width="4.05" height="3.76" fill="#262626" stroke="#222" stroke-width="0.5" />
<rect x="410.10" y="289.28" width="4.05" height="3.22" fill="#dadada" stroke="#222" stroke-width="0.5" />
<rect x="414.15" y="290.35" width="4.05" height="2.15" fill="#a0a0a0" stroke="#222" stroke-width="0.5" />
<text x="410.60" y="298.30" font-size="4.6" text-anchor="middle" fill="#222" stroke="#333" stroke-width="0.08">0</text>
<line x1="425.42" y1="283.69" x2="425.42" y2="279.61" stroke="#444" stroke-width="0.4" />
<line x1="424.62" y1="279.61" x2="426.22" y2="279.61" stroke="#444" stroke-width="0.4" />
<rect x="423.40" y="283.69" width="4.05" height="8.81" fill="#fff" stroke="#222" stroke-width="0.5" />
<rect x="427.45" y="286.22" width="4.05" height="6.28" fill="#262626" stroke="#222" stroke-width="0.5" />
<line x1="433.52" y1="285.73" x2="433.52" y2="282.30" stroke="#444" stroke-width="0.4" />
<line x1="432.72" y1="282.30" x2="434.32" y2="282.30" stroke="#444" stroke-width="0.4" />
<rect x="431.50" y="285.73" width="4.05" height="6.77" fill="#dadada" stroke="#222" stroke-width="0.5" />
<line x1="437.57" y1="272.95" x2="437.57" y2="267.48" stroke="#444" stroke-width="0.4" />
<line x1="436.77" y1="267.48" x2="438.37" y2="267.48" stroke="#444" stroke-width="0.4" />
<rect x="435.55" y="272.95" width="4.05" height="19.55" fill="#a0a0a0" stroke="#222" stroke-width="0.5" />
<text x="432.00" y="298.30" font-size="4.6" text-anchor="middle" fill="#222" stroke="#333" stroke-width="0.08">0.8</text>
<line x1="446.82" y1="277.25" x2="446.82" y2="275.10" stroke="#444" stroke-width="0.4" />
<line x1="446.02" y1="275.10" x2="447.62" y2="275.10" stroke="#444" stroke-width="0.4" />
<rect x="444.80" y="277.25" width="4.05" height="15.25" fill="#fff" stroke="#222" stroke-width="0.5" />
<line x1="450.88" y1="276.39" x2="450.88" y2="274.78" stroke="#444" stroke-width="0.4" />
<line x1="450.07" y1="274.78" x2="451.68" y2="274.78" stroke="#444" stroke-width="0.4" />
<rect x="448.85" y="276.39" width="4.05" height="16.11" fill="#262626" stroke="#222" stroke-width="0.5" />
<line x1="454.93" y1="280.69" x2="454.93" y2="279.07" stroke="#444" stroke-width="0.4" />
<line x1="454.12" y1="279.07" x2="455.73" y2="279.07" stroke="#444" stroke-width="0.4" />
<rect x="452.90" y="280.69" width="4.05" height="11.81" fill="#dadada" stroke="#222" stroke-width="0.5" />
<line x1="458.97" y1="263.18" x2="458.97" y2="259.21" stroke="#444" stroke-width="0.4" />
<line x1="458.17" y1="259.21" x2="459.77" y2="259.21" stroke="#444" stroke-width="0.4" />
<rect x="456.95" y="263.18" width="4.05" height="29.32" fill="#a0a0a0" stroke="#222" stroke-width="0.5" />
<text x="453.40" y="298.30" font-size="4.6" text-anchor="middle" fill="#222" stroke="#333" stroke-width="0.08">1.6</text>
<text x="434.70" y="305.10" font-size="4.6" text-anchor="middle" fill="#222" textLength="21.2" lengthAdjust="spacingAndGlyphs" stroke="#333" stroke-width="0.08">VP-16 [µM]</text>
<line x1="258.20" y1="320.30" x2="258.20" y2="374.40" stroke="#aaa" stroke-width="0.7" />
<line x1="258.20" y1="374.40" x2="322.40" y2="374.40" stroke="#aaa" stroke-width="0.7" />
<line x1="257.00" y1="374.40" x2="258.20" y2="374.40" stroke="#aaa" stroke-width="0.5" />
<text x="255.20" y="375.80" font-size="4.0" text-anchor="end" fill="#333" stroke="#333" stroke-width="0.15">0</text>
<line x1="257.00" y1="369.04" x2="258.20" y2="369.04" stroke="#aaa" stroke-width="0.5" />
<text x="255.20" y="370.44" font-size="4.0" text-anchor="end" fill="#333" stroke="#333" stroke-width="0.15">10</text>
<line x1="257.00" y1="363.68" x2="258.20" y2="363.68" stroke="#aaa" stroke-width="0.5" />
<text x="255.20" y="365.08" font-size="4.0" text-anchor="end" fill="#333" stroke="#333" stroke-width="0.15">20</text>
<line x1="257.00" y1="358.32" x2="258.20" y2="358.32" stroke="#aaa" stroke-width="0.5" />
<text x="255.20" y="359.72" font-size="4.0" text-anchor="end" fill="#333" stroke="#333" stroke-width="0.15">30</text>
<line x1="257.00" y1="352.96" x2="258.20" y2="352.96" stroke="#aaa" stroke-width="0.5" />
<text x="255.20" y="354.36" font-size="4.0" text-anchor="end" fill="#333" stroke="#333" stroke-width="0.15">40</text>
<line x1="257.00" y1="347.60" x2="258.20" y2="347.60" stroke="#aaa" stroke-width="0.5" />
<text x="255.20" y="349.00" font-size="4.0" text-anchor="end" fill="#333" stroke="#333" stroke-width="0.15">50</text>
<line x1="257.00" y1="342.24" x2="258.20" y2="342.24" stroke="#aaa" stroke-width="0.5" />
<text x="255.20" y="343.64" font-size="4.0" text-anchor="end" fill="#333" stroke="#333" stroke-width="0.15">60</text>
<line x1="257.00" y1="336.88" x2="258.20" y2="336.88" stroke="#aaa" stroke-width="0.5" />
<text x="255.20" y="338.28" font-size="4.0" text-anchor="end" fill="#333" stroke="#333" stroke-width="0.15">70</text>
<line x1="257.00" y1="331.52" x2="258.20" y2="331.52" stroke="#aaa" stroke-width="0.5" />
<text x="255.20" y="332.92" font-size="4.0" text-anchor="end" fill="#333" stroke="#333" stroke-width="0.15">80</text>
<line x1="257.00" y1="326.16" x2="258.20" y2="326.16" stroke="#aaa" stroke-width="0.5" />
<text x="255.20" y="327.56" font-size="4.0" text-anchor="end" fill="#333" stroke="#333" stroke-width="0.15">90</text>
<line x1="257.00" y1="320.80" x2="258.20" y2="320.80" stroke="#aaa" stroke-width="0.5" />
<text x="255.20" y="322.20" font-size="4.0" text-anchor="end" fill="#333" stroke="#333" stroke-width="0.15">100</text>
<line x1="258.20" y1="374.40" x2="258.20" y2="375.60" stroke="#aaa" stroke-width="0.5" />
<line x1="279.60" y1="374.40" x2="279.60" y2="375.60" stroke="#aaa" stroke-width="0.5" />
<line x1="301.00" y1="374.40" x2="301.00" y2="375.60" stroke="#aaa" stroke-width="0.5" />
<line x1="322.40" y1="374.40" x2="322.40" y2="375.60" stroke="#aaa" stroke-width="0.5" />
<text x="245.50" y="350.30" font-size="4.3" text-anchor="middle" fill="#333" textLength="21.0" lengthAdjust="spacingAndGlyphs" transform="rotate(-90 245.50 350.30)" stroke="#333" stroke-width="0.08">sub-G1 [%]</text>
<text x="286.40" y="319.60" font-size="4.4" text-anchor="middle" fill="#333" stroke="#333" stroke-width="0.08">U-937</text>
<rect x="261.30" y="366.20" width="4.05" height="8.20" fill="#fff" stroke="#222" stroke-width="0.5" />
<line x1="267.38" y1="365.98" x2="267.38" y2="363.30" stroke="#444" stroke-width="0.4" />
<line x1="266.57" y1="363.30" x2="268.18" y2="363.30" stroke="#444" stroke-width="0.4" />
<rect x="265.35" y="365.98" width="4.05" height="8.42" fill="#262626" stroke="#222" stroke-width="0.5" />
<line x1="271.43" y1="364.91" x2="271.43" y2="361.91" stroke="#444" stroke-width="0.4" />
<line x1="270.62" y1="361.91" x2="272.23" y2="361.91" stroke="#444" stroke-width="0.4" />
<rect x="269.40" y="364.91" width="4.05" height="9.49" fill="#dadada" stroke="#222" stroke-width="0.5" />
<rect x="273.45" y="363.89" width="4.05" height="10.51" fill="#a0a0a0" stroke="#222" stroke-width="0.5" />
<text x="269.20" y="379.60" font-size="4.6" text-anchor="middle" fill="#222" stroke="#333" stroke-width="0.08">0</text>
<line x1="284.72" y1="358.11" x2="284.72" y2="355.96" stroke="#444" stroke-width="0.4" />
<line x1="283.92" y1="355.96" x2="285.52" y2="355.96" stroke="#444" stroke-width="0.4" />
<rect x="282.70" y="358.11" width="4.05" height="16.29" fill="#fff" stroke="#222" stroke-width="0.5" />
<line x1="288.77" y1="356.50" x2="288.77" y2="354.51" stroke="#444" stroke-width="0.4" />
<line x1="287.97" y1="354.51" x2="289.57" y2="354.51" stroke="#444" stroke-width="0.4" />
<rect x="286.75" y="356.50" width="4.05" height="17.90" fill="#262626" stroke="#222" stroke-width="0.5" />
<line x1="292.82" y1="356.82" x2="292.82" y2="355.21" stroke="#444" stroke-width="0.4" />
<line x1="292.02" y1="355.21" x2="293.62" y2="355.21" stroke="#444" stroke-width="0.4" />
<rect x="290.80" y="356.82" width="4.05" height="17.58" fill="#dadada" stroke="#222" stroke-width="0.5" />
<line x1="296.87" y1="359.02" x2="296.87" y2="354.89" stroke="#444" stroke-width="0.4" />
<line x1="296.07" y1="354.89" x2="297.67" y2="354.89" stroke="#444" stroke-width="0.4" />
<rect x="294.85" y="359.02" width="4.05" height="15.38" fill="#a0a0a0" stroke="#222" stroke-width="0.5" />
<text x="290.60" y="379.60" font-size="4.6" text-anchor="middle" fill="#222" stroke="#333" stroke-width="0.08">1.6</text>
<line x1="306.12" y1="354.09" x2="306.12" y2="352.80" stroke="#444" stroke-width="0.4" />
<line x1="305.32" y1="352.80" x2="306.93" y2="352.80" stroke="#444" stroke-width="0.4" />
<rect x="304.10" y="354.09" width="4.05" height="20.31" fill="#fff" stroke="#222" stroke-width="0.5" />
<line x1="310.18" y1="357.62" x2="310.18" y2="353.87" stroke="#444" stroke-width="0.4" />
<line x1="309.38" y1="353.87" x2="310.98" y2="353.87" stroke="#444" stroke-width="0.4" />
<rect x="308.15" y="357.62" width="4.05" height="16.78" fill="#262626" stroke="#222" stroke-width="0.5" />
<line x1="314.23" y1="351.78" x2="314.23" y2="349.10" stroke="#444" stroke-width="0.4" />
<line x1="313.43" y1="349.10" x2="315.03" y2="349.10" stroke="#444" stroke-width="0.4" />
<rect x="312.20" y="351.78" width="4.05" height="22.62" fill="#dadada" stroke="#222" stroke-width="0.5" />
<line x1="318.27" y1="346.80" x2="318.27" y2="345.08" stroke="#444" stroke-width="0.4" />
<line x1="317.47" y1="345.08" x2="319.07" y2="345.08" stroke="#444" stroke-width="0.4" />
<rect x="316.25" y="346.80" width="4.05" height="27.60" fill="#a0a0a0" stroke="#222" stroke-width="0.5" />
<text x="312.00" y="379.60" font-size="4.6" text-anchor="middle" fill="#222" stroke="#333" stroke-width="0.08">3.3</text>
<text x="294.30" y="387.10" font-size="4.6" text-anchor="middle" fill="#222" textLength="21.2" lengthAdjust="spacingAndGlyphs" stroke="#333" stroke-width="0.08">VP-16 [µM]</text>
<line x1="400.20" y1="320.30" x2="400.20" y2="374.40" stroke="#aaa" stroke-width="0.7" />
<line x1="400.20" y1="374.40" x2="464.40" y2="374.40" stroke="#aaa" stroke-width="0.7" />
<line x1="399.00" y1="374.40" x2="400.20" y2="374.40" stroke="#aaa" stroke-width="0.5" />
<text x="397.20" y="375.80" font-size="4.0" text-anchor="end" fill="#333" stroke="#333" stroke-width="0.15">0</text>
<line x1="399.00" y1="369.04" x2="400.20" y2="369.04" stroke="#aaa" stroke-width="0.5" />
<text x="397.20" y="370.44" font-size="4.0" text-anchor="end" fill="#333" stroke="#333" stroke-width="0.15">10</text>
<line x1="399.00" y1="363.68" x2="400.20" y2="363.68" stroke="#aaa" stroke-width="0.5" />
<text x="397.20" y="365.08" font-size="4.0" text-anchor="end" fill="#333" stroke="#333" stroke-width="0.15">20</text>
<line x1="399.00" y1="358.32" x2="400.20" y2="358.32" stroke="#aaa" stroke-width="0.5" />
<text x="397.20" y="359.72" font-size="4.0" text-anchor="end" fill="#333" stroke="#333" stroke-width="0.15">30</text>
<line x1="399.00" y1="352.96" x2="400.20" y2="352.96" stroke="#aaa" stroke-width="0.5" />
<text x="397.20" y="354.36" font-size="4.0" text-anchor="end" fill="#333" stroke="#333" stroke-width="0.15">40</text>
<line x1="399.00" y1="347.60" x2="400.20" y2="347.60" stroke="#aaa" stroke-width="0.5" />
<text x="397.20" y="349.00" font-size="4.0" text-anchor="end" fill="#333" stroke="#333" stroke-width="0.15">50</text>
<line x1="399.00" y1="342.24" x2="400.20" y2="342.24" stroke="#aaa" stroke-width="0.5" />
<text x="397.20" y="343.64" font-size="4.0" text-anchor="end" fill="#333" stroke="#333" stroke-width="0.15">60</text>
<line x1="399.00" y1="336.88" x2="400.20" y2="336.88" stroke="#aaa" stroke-width="0.5" />
<text x="397.20" y="338.28" font-size="4.0" text-anchor="end" fill="#333" stroke="#333" stroke-width="0.15">70</text>
<line x1="399.00" y1="331.52" x2="400.20" y2="331.52" stroke="#aaa" stroke-width="0.5" />
<text x="397.20" y="332.92" font-size="4.0" text-anchor="end" fill="#333" stroke="#333" stroke-width="0.15">80</text>
<line x1="399.00" y1="326.16" x2="400.20" y2="326.16" stroke="#aaa" stroke-width="0.5" />
<text x="397.20" y="327.56" font-size="4.0" text-anchor="end" fill="#333" stroke="#333" stroke-width="0.15">90</text>
<line x1="399.00" y1="320.80" x2="400.20" y2="320.80" stroke="#aaa" stroke-width="0.5" />
<text x="397.20" y="322.20" font-size="4.0" text-anchor="end" fill="#333" stroke="#333" stroke-width="0.15">100</text>
<line x1="400.20" y1="374.40" x2="400.20" y2="375.60" stroke="#aaa" stroke-width="0.5" />
<line x1="421.60" y1="374.40" x2="421.60" y2="375.60" stroke="#aaa" stroke-width="0.5" />
<line x1="443.00" y1="374.40" x2="443.00" y2="375.60" stroke="#aaa" stroke-width="0.5" />
<line x1="464.40" y1="374.40" x2="464.40" y2="375.60" stroke="#aaa" stroke-width="0.5" />
<text x="389.20" y="350.70" font-size="4.3" text-anchor="middle" fill="#333" textLength="21.0" lengthAdjust="spacingAndGlyphs" transform="rotate(-90 389.20 350.70)" stroke="#333" stroke-width="0.08">sub-G1 [%]</text>
<text x="428.20" y="319.40" font-size="4.4" text-anchor="middle" fill="#333" stroke="#333" stroke-width="0.08">SKM-1</text>
<line x1="405.42" y1="371.18" x2="405.42" y2="370.11" stroke="#444" stroke-width="0.4" />
<line x1="404.62" y1="370.11" x2="406.22" y2="370.11" stroke="#444" stroke-width="0.4" />
<rect x="403.40" y="371.18" width="4.05" height="3.22" fill="#fff" stroke="#222" stroke-width="0.5" />
<rect x="407.45" y="369.58" width="4.05" height="4.82" fill="#262626" stroke="#222" stroke-width="0.5" />
<rect x="411.50" y="369.04" width="4.05" height="5.36" fill="#dadada" stroke="#222" stroke-width="0.5" />
<line x1="417.57" y1="370.11" x2="417.57" y2="369.04" stroke="#444" stroke-width="0.4" />
<line x1="416.77" y1="369.04" x2="418.37" y2="369.04" stroke="#444" stroke-width="0.4" />
<rect x="415.55" y="370.11" width="4.05" height="4.29" fill="#a0a0a0" stroke="#222" stroke-width="0.5" />
<text x="411.20" y="379.70" font-size="4.6" text-anchor="middle" fill="#222" stroke="#333" stroke-width="0.08">0</text>
<rect x="424.80" y="350.28" width="4.05" height="24.12" fill="#fff" stroke="#222" stroke-width="0.5" />
<line x1="430.87" y1="348.99" x2="430.87" y2="347.92" stroke="#444" stroke-width="0.4" />
<line x1="430.07" y1="347.92" x2="431.67" y2="347.92" stroke="#444" stroke-width="0.4" />
<rect x="428.85" y="348.99" width="4.05" height="25.41" fill="#262626" stroke="#222" stroke-width="0.5" />
<line x1="434.92" y1="355.64" x2="434.92" y2="353.50" stroke="#444" stroke-width="0.4" />
<line x1="434.12" y1="353.50" x2="435.72" y2="353.50" stroke="#444" stroke-width="0.4" />
<rect x="432.90" y="355.64" width="4.05" height="18.76" fill="#dadada" stroke="#222" stroke-width="0.5" />
<line x1="438.97" y1="339.08" x2="438.97" y2="333.72" stroke="#444" stroke-width="0.4" />
<line x1="438.17" y1="333.72" x2="439.77" y2="333.72" stroke="#444" stroke-width="0.4" />
<rect x="436.95" y="339.08" width="4.05" height="35.32" fill="#a0a0a0" stroke="#222" stroke-width="0.5" />
<text x="432.60" y="379.70" font-size="4.6" text-anchor="middle" fill="#222" stroke="#333" stroke-width="0.08">1.6</text>
<rect x="446.20" y="343.85" width="4.05" height="30.55" fill="#fff" stroke="#222" stroke-width="0.5" />
<line x1="452.27" y1="347.22" x2="452.27" y2="345.62" stroke="#444" stroke-width="0.4" />
<line x1="451.47" y1="345.62" x2="453.07" y2="345.62" stroke="#444" stroke-width="0.4" />
<rect x="450.25" y="347.22" width="4.05" height="27.18" fill="#262626" stroke="#222" stroke-width="0.5" />
<line x1="456.32" y1="349.90" x2="456.32" y2="346.69" stroke="#444" stroke-width="0.4" />
<line x1="455.52" y1="346.69" x2="457.12" y2="346.69" stroke="#444" stroke-width="0.4" />
<rect x="454.30" y="349.90" width="4.05" height="24.50" fill="#dadada" stroke="#222" stroke-width="0.5" />
<line x1="460.37" y1="335.11" x2="460.37" y2="332.43" stroke="#444" stroke-width="0.4" />
<line x1="459.57" y1="332.43" x2="461.17" y2="332.43" stroke="#444" stroke-width="0.4" />
<rect x="458.35" y="335.11" width="4.05" height="39.29" fill="#a0a0a0" stroke="#222" stroke-width="0.5" />
<text x="454.00" y="379.70" font-size="4.6" text-anchor="middle" fill="#222" stroke="#333" stroke-width="0.08">3.3</text>
<text x="435.20" y="387.10" font-size="4.6" text-anchor="middle" fill="#222" textLength="21.2" lengthAdjust="spacingAndGlyphs" stroke="#333" stroke-width="0.08">VP-16 [µM]</text>
<text x="438.80" y="333.10" font-size="4.0" text-anchor="middle" fill="#444" >*</text>
<text x="459.80" y="330.60" font-size="4.0" text-anchor="middle" fill="#444" >*</text>
</g>
</svg>
</body></html>
